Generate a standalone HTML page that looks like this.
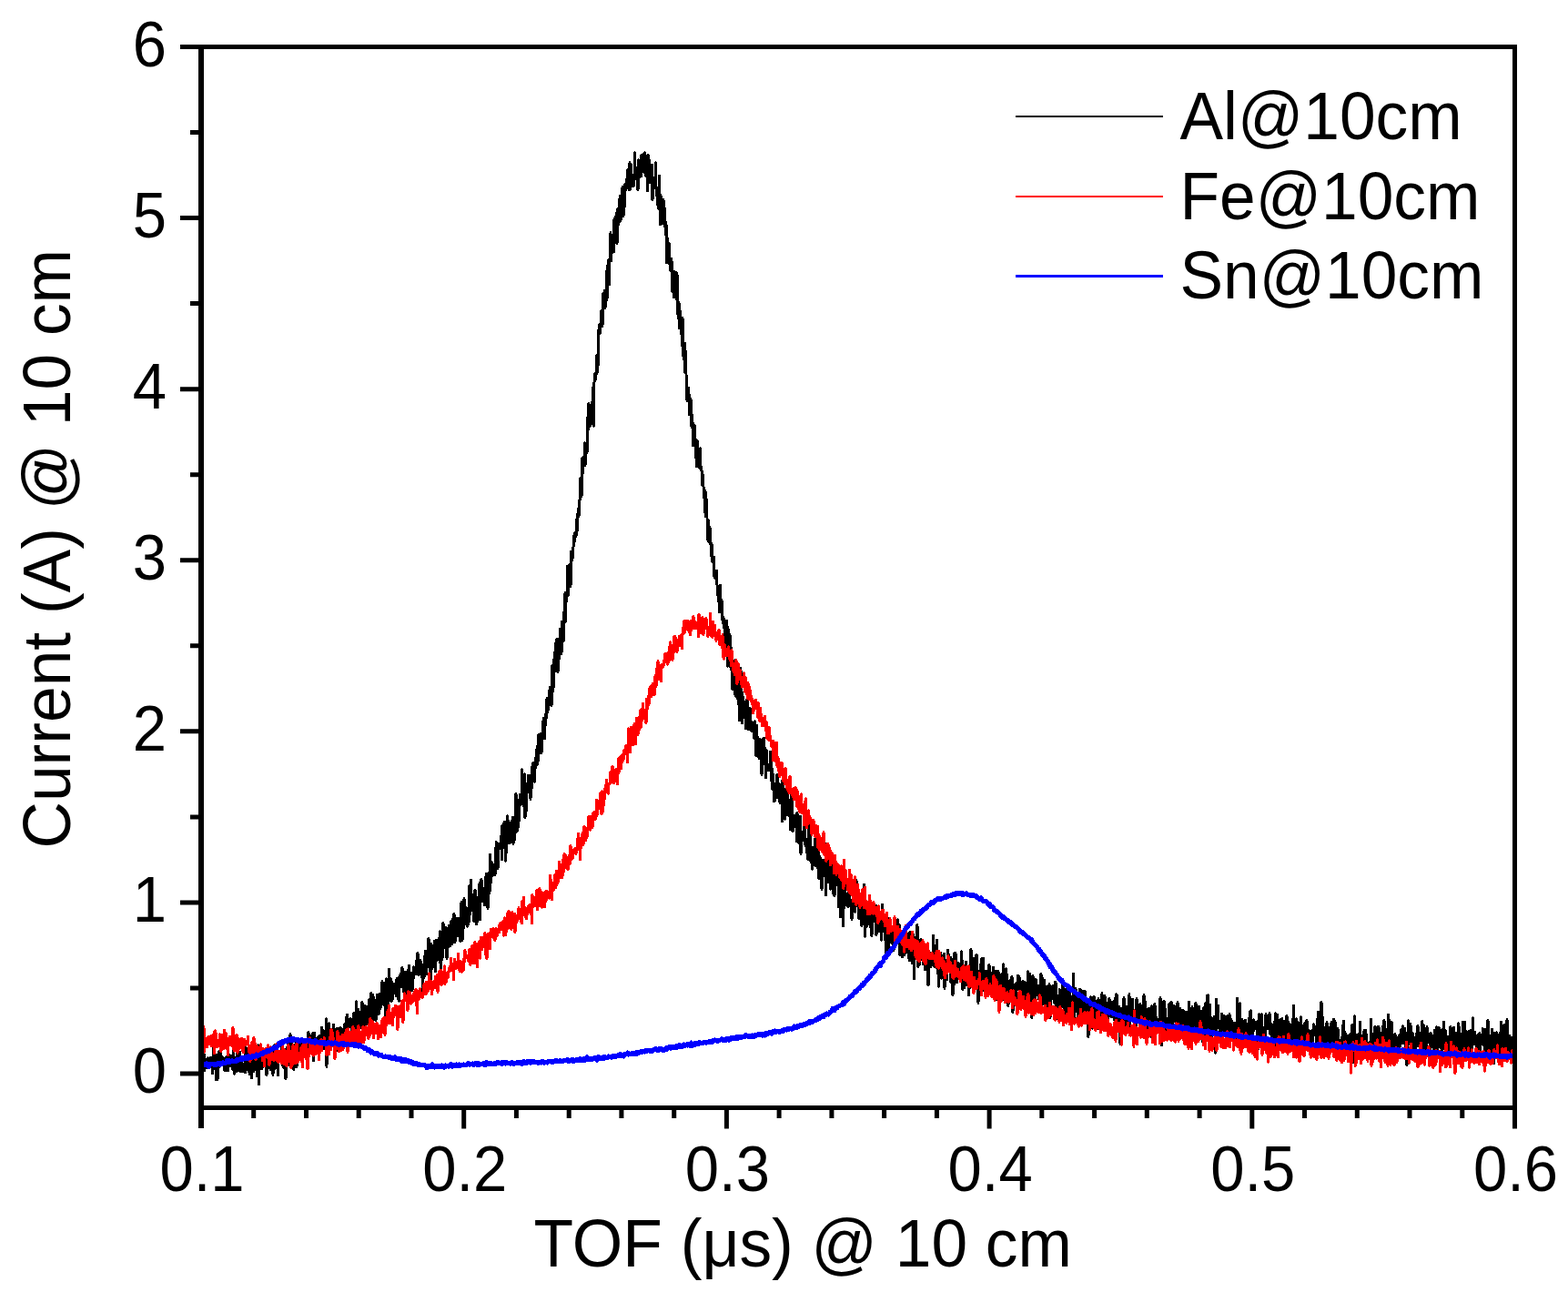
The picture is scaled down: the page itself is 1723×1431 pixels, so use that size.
<!DOCTYPE html>
<html><head><meta charset="utf-8"><style>
html,body{margin:0;padding:0;background:#fff;}
svg{display:block;font-family:"Liberation Sans",sans-serif;}
</style></head><body>
<svg width="1723" height="1431" viewBox="0 0 1723 1431">
<defs><clipPath id="c"><rect x="221" y="51.5" width="1443.5" height="1166"/></clipPath></defs>
<rect width="1723" height="1431" fill="#fff"/>
<g fill="none" stroke-linejoin="round" stroke-linecap="butt" clip-path="url(#c)" shape-rendering="crispEdges">
<path d="M222.50 1171.9l0.5 4.1 0.5-4.2 0.5-13.9 0.5 18.8 0.5-3.9 0.5-8.4 0.5 9.5 0.5-1.8 0.5-0.6 0.5-2.3 0.5 4.4 0.5-10.9 0.5 4.9 0.5-2.7 0.5 9.2 0.5-4.8 0.5-2.8 0.5-4.1 0.5 4.4 0.5 2.3 0.5-2.4 0.5 13.3 0.5-2.4 0.5-31.6 0.5 6.9 0.5 14.6 0.5-2.1 0.5 5.4 0.5 0 0.5 16.2 0.5-27.5 0.5 6.3 0.5 20.6 0.5-11.9 0.5 0.1 0.5-10 0.5-9.6 0.5 15.4 0.5-0.5 0.5-11.3 0.5 4.6 0.5 5.2 0.5-7.4 0.5 7.2 0.5 1.7 0.5-0.5 0.5-4.6 0.5 9.3 0.5 2.6 0.5-4.8 0.5-9.7 0.5 13.2 0.5-10.5 0.5 11.8 0.5-16.6 0.5 16.9 0.5-7.9 0.5-10.4 0.5 8 0.5 3.1 0.5 1.9 0.5-10.6 0.5-1 0.5 11.1 0.5-5.6 0.5 6 0.5 4.4 0.5-20.4 0.5 16.2 0.5 8.3 0.5-12.9 0.5-4.4 0.5 13.4 0.5-4.3 0.5 5.5 0.5-10.5 0.5-9.6 0.5 11.6 0.5-2.8 0.5 10.4 0.5-4.9 0.5-15.5 0.5 3.7 0.5 17.7 0.5-1.8 0.5-11.2 0.5 5.5 0.5 3.8 0.5 0.2 0.5 3.4 0.5-5.2 0.5-3 0.5-1.4 0.5 11.2 0.5-28.1 0.5 17.9 0.5 1.5 0.5-12.4 0.5 14.9 0.5-8.3 0.5 12.8 0.5-8.4 0.5 6.8 0.5 4.7 0.5-7.1 0.5-10.7 0.5-5.5 0.5 27.8 0.5-15.8 0.5-5 0.5 7.1 0.5-2.8 0.5 8.8 0.5-6.9 0.5-0.2 0.5-6.2 0.5 10.1 0.5-12.8 0.5 14.5 0.5 7.3 0.5-26 0.5-8 0.5 26.2 0.5 16.5 0.5-30.2 0.5-2.1 0.5 15.6 0.5-12.2 0.5 2.9 0.5 1.3 0.5 7.5 0.5-8 0.5 5.8 0.5-3.9 0.5-5.7 0.5 4.4 0.5-5.4 0.5 8.1 0.5-9.7 0.5 0.2 0.5 21.6 0.5-12.9 0.5-0.1 0.5 4.7 0.5-8 0.5 1.5 0.5 5.4 0.5-1.3 0.5-12.4 0.5 16.8 0.5-12.3 0.5-4.1 0.5 1.1 0.5 4.2 0.5 16.9 0.5-24 0.5 11.2 0.5-19.8 0.5 18 0.5 7.4 0.5-9.9 0.5-3.5 0.5 7.1 0.5 3.7 0.5-0.5 0.5 10.9 0.5-15.2 0.5-7 0.5 3.7 0.5 0.2 0.5 1.4 0.5-1.4 0.5 1.5 0.5-15.9 0.5 21 0.5-12.1 0.5-5.3 0.5 15.2 0.5 5.5 0.5-7.2 0.5-3 0.5-9.5 0.5 32.2 0.5-17.2 0.5-17.3 0.5 2.8 0.5 7.2 0.5-14.1 0.5 14.4 0.5-5.5 0.5 14.1 0.5-2.4 0.5-31.4 0.5 23.2 0.5-14.3 0.5 23 0.5-8.2 0.5 3 0.5-13.9 0.5 24.4 0.5 1.5 0.5-26.4 0.5 12 0.5-9.1 0.5 5.3 0.5-10.7 0.5 26.4 0.5-24.3 0.5 5.5 0.5 6.6 0.5-10 0.5 3.3 0.5-3 0.5 3.5 0.5-9 0.5 6 0.5 1.8 0.5-1.3 0.5 3.1 0.5-3.2 0.5 8.8 0.5-9.5 0.5 1.4 0.5-4.7 0.5 0.9 0.5-6.6 0.5 15.3 0.5-14.7 0.5 3.3 0.5 9.4 0.5 0.2 0.5-7.3 0.5-14.4 0.5 21.2 0.5-1.6 0.5-15 0.5 19.1 0.5-13.2 0.5-4 0.5 10.6 0.5-2.6 0.5 3.2 0.5-16.5 0.5 30.5 0.5-21.9 0.5-8.7 0.5 19.3 0.5-9.1 0.5 6 0.5-6.3 0.5 2.4 0.5 2.5 0.5-9.3 0.5 12.9 0.5-10.8 0.5-3.9 0.5 8.5 0.5 3.2 0.5-6.5 0.5-6.1 0.5 13.5 0.5-22.3 0.5 6.6 0.5 9.7 0.5-13.3 0.5 12.7 0.5-1 0.5 8.8 0.5-17.3 0.5 2.5 0.5 8.8 0.5-26.6 0.5 52.4 0.5-36.2 0.5-0.6 0.5 14.9 0.5-8.8 0.5-16.8 0.5 22.8 0.5 1.9 0.5-12.7 0.5 1.4 0.5 7.2 0.5-13.7 0.5 12.8 0.5-2.5 0.5-8.7 0.5-7.2 0.5 11.1 0.5-6.6 0.5 18.1 0.5-8.6 0.5 6 0.5-6.5 0.5 1 0.5-10.5 0.5 14.1 0.5 10.8 0.5-21 0.5-3 0.5 4.1 0.5-3.5 0.5-2.4 0.5 8.1 0.5-4.5 0.5 17 0.5-14.6 0.5 3 0.5 6 0.5-12.9 0.5 17.3 0.5-21.2 0.5-2 0.5 4.2 0.5 2.2 0.5-13.4 0.5 13.6 0.5-16.9 0.5 30.9 0.5-15.3 0.5-6.1 0.5-3.1 0.5 5.1 0.5 1.3 0.5-8.9 0.5 1 0.5 7.2 0.5-3.8 0.5 14.8 0.5 1.7 0.5-12.1 0.5 4.4 0.5-19.3 0.5 20.3 0.5-7.4 0.5 5 0.5 11.4 0.5-41.4 0.5 26.4 0.5-14.8 0.5 17.5 0.5-20.6 0.5 8.2 0.5 7 0.5 4 0.5-6.2 0.5-9.8 0.5 2.2 0.5 14.9 0.5-10 0.5-18.5 0.5 26.8 0.5-5.1 0.5 4.5 0.5-13.5 0.5 12.2 0.5-21 0.5 17.3 0.5-12.1 0.5 12.3 0.5 3.2 0.5-19.6 0.5 7.1 0.5 0.5 0.5 12.2 0.5-5.8 0.5-21.7 0.5 18 0.5 2.7 0.5 14.8 0.5-42.6 0.5 12.2 0.5 20.3 0.5-30.5 0.5 1.2 0.5 18.7 0.5 5.1 0.5-19.4 0.5 13.1 0.5-5.3 0.5 15.3 0.5-17.6 0.5 10.7 0.5-21.9 0.5 7.6 0.5 0.5 0.5 13.6 0.5-6.8 0.5-15.7 0.5 15.9 0.5 0.5 0.5-10.5 0.5-2.2 0.5 0.3 0.5-17.7 0.5 21.2 0.5 0 0.5-13.1 0.5 18 0.5-24.7 0.5 9 0.5 0.4 0.5 27.8 0.5-41.7 0.5 24.4 0.5 3.9 0.5-6.9 0.5 8.8 0.5-25.6 0.5-15.2 0.5 34.6 0.5-23.1 0.5 9.5 0.5-10.2 0.5 25.1 0.5-2.6 0.5-18.8 0.5 18.2 0.5-9.5 0.5-3.5 0.5 1.7 0.5-3.5 0.5 8.9 0.5-4 0.5-8.2 0.5 15.1 0.5-19.1 0.5 9.8 0.5 1 0.5 11.6 0.5-23.3 0.5 25.3 0.5-18.5 0.5-4.8 0.5-6 0.5 13.9 0.5-6.6 0.5-13.8 0.5-0.8 0.5 6.2 0.5-1.9 0.5 19.9 0.5 2.8 0.5-6.3 0.5-6.3 0.5-9.4 0.5 5.1 0.5 9.2 0.5 13.9 0.5-14.4 0.5-14 0.5 3.3 0.5-6.4 0.5-3.7 0.5 6.5 0.5 4.1 0.5 18.5 0.5-20.8 0.5 14.7 0.5 4.5 0.5-19.7 0.5 17.3 0.5-10.6 0.5-13.3 0.5 7.6 0.5-3.1 0.5-3.2 0.5 0.1 0.5 3.7 0.5 3.1 0.5-15.5 0.5 9.8 0.5-17.7 0.5 20.2 0.5 3.9 0.5-5.6 0.5 1.1 0.5 3.2 0.5-14.7 0.5 4.5 0.5 8.3 0.5 5.3 0.5-7.3 0.5 24.4 0.5-30.8 0.5 12.2 0.5 2.7 0.5-16.5 0.5-8.3 0.5-4.6 0.5 15.1 0.5 10.4 0.5-10.1 0.5-1.5 0.5-6.8 0.5 10.3 0.5-31.5 0.5 26.8 0.5-2.8 0.5-16.6 0.5 40.3 0.5-41.5 0.5 3.1 0.5-1.9 0.5 26 0.5-23.5 0.5 17.4 0.5-1.5 0.5-4.3 0.5-18.5 0.5 7.4 0.5 25.7 0.5-34.6 0.5 4.7 0.5 7.1 0.5 10.5 0.5-7 0.5 5.1 0.5-21.5 0.5 22.5 0.5-4.9 0.5-25.6 0.5 35.4 0.5 8 0.5-35.9 0.5 8.8 0.5 14.8 0.5-33.8 0.5-6.5 0.5 7.2 0.5 7.7 0.5-0.8 0.5 12.9 0.5-4.6 0.5-18.1 0.5 20.2 0.5 14.3 0.5-8.5 0.5-3 0.5-11.9 0.5 10.4 0.5-23.1 0.5 19.1 0.5-10.4 0.5 13.4 0.5-8.3 0.5-18.6 0.5 13.4 0.5 11.9 0.5-27.6 0.5 5.9 0.5-3 0.5-8.9 0.5 27.6 0.5 3.5 0.5-6.4 0.5-7 0.5-3.9 0.5 2.8 0.5-11.7 0.5 18.2 0.5 1.2 0.5-1.7 0.5-17.4 0.5 6.6 0.5-3.3 0.5 22 0.5-19 0.5-24.1 0.5 25.8 0.5 16.6 0.5-14.3 0.5 1.8 0.5-10.1 0.5-23.6 0.5 1.4 0.5 6.1 0.5 12.4 0.5 4.5 0.5 3.9 0.5-12.3 0.5 14.4 0.5-14.7 0.5-5.4 0.5 17.4 0.5-20.9 0.5-21.4 0.5 18.6 0.5 12.7 0.5-37.1 0.5 30.7 0.5-0.3 0.5-13.3 0.5-1.3 0.5 11 0.5-1.7 0.5 20 0.5-10.9 0.5-23.3 0.5 7.5 0.5 17.1 0.5 12.8 0.5-18.3 0.5-1.8 0.5 16.9 0.5-22.7 0.5-4.2 0.5-13.8 0.5 9.3 0.5 29.9 0.5-42.4 0.5 15.4 0.5-17.5 0.5 16.6 0.5 7.6 0.5-14.1 0.5 10 0.5-1.2 0.5-4.3 0.5 13.4 0.5-11.9 0.5-13.6 0.5-5.5 0.5-3 0.5 14 0.5-10.3 0.5 34 0.5-11.4 0.5-24.7 0.5-2.5 0.5 22.1 0.5-42.2 0.5 15.4 0.5 15 0.5-22.5 0.5 3.9 0.5 0.4 0.5 10.5 0.5-7.1 0.5 2 0.5 1.2 0.5-7.6 0.5 11.3 0.5-22.2 0.5-9.2 0.5-5 0.5 0.7 0.5 11.2 0.5 17.1 0.5-10.9 0.5-9.9 0.5-6.5 0.5 5.1 0.5 0.4 0.5-2.9 0.5-11 0.5 9.9 0.5 16.2 0.5-37.8 0.5 21.2 0.5-22.6 0.5 25.5 0.5-11.7 0.5-16.4 0.5 24.2 0.5 18.8 0.5-20.6 0.5 11.2 0.5-15.1 0.5-24.9 0.5 29.5 0.5-11.3 0.5-12.9 0.5 24.9 0.5-6.6 0.5-10.2 0.5 15.2 0.5-20.9 0.5 16.5 0.5-19.1 0.5 16.1 0.5-19.7 0.5 28.9 0.5-15.2 0.5 12.6 0.5-26.9 0.5 3 0.5 14.1 0.5-42.3 0.5 18.2 0.5 23.1 0.5-7.8 0.5 4.7 0.5-16 0.5 8.7 0.5-16.2 0.5-8.8 0.5-5.1 0.5 11.6 0.5-1.5 0.5-2.4 0.5-35.1 0.5 16.2 0.5 15.3 0.5 7.8 0.5-11.5 0.5-5 0.5-18 0.5 48.2 0.5-37.4 0.5 30.5 0.5-2.9 0.5-16.2 0.5-11.2 0.5 6.7 0.5-16.2 0.5 14.9 0.5-4.4 0.5 4.7 0.5 3.3 0.5 7.6 0.5-25.8 0.5 15 0.5-22.6 0.5-2.7 0.5 1.6 0.5-5.8 0.5 21 0.5-2.4 0.5 2.4 0.5-16.7 0.5 1.7 0.5-11.6 0.5-8.4 0.5 16.5 0.5-4 0.5-17.7 0.5 17.5 0.5-28.8 0.5 15.9 0.5-7.2 0.5-1 0.5-8.5 0.5 21.2 0.5-6.7 0.5 4.8 0.5-14.4 0.5-18.8 0.5 8.1 0.5-11.8 0.5 16.4 0.5 6 0.5-12.7 0.5-13.3 0.5 0 0.5 3.9 0.5-21.7 0.5 15.6 0.5-2.2 0.5-11.3 0.5-1.4 0.5 4 0.5-14.1 0.5-2.8 0.5 15.7 0.5-9.1 0.5 14 0.5-33.3 0.5-11.7 0.5 28.6 0.5-2.3 0.5-22.1 0.5-10.9 0.5 13.9 0.5-22.1 0.5 13.7 0.5-23.6 0.5 19.9 0.5-24.1 0.5 19.2 0.5 17.7 0.5-23.1 0.5 9.4 0.5-18.8 0.5-5.6 0.5-9.7 0.5 26.4 0.5-15.5 0.5 16.3 0.5-35.3 0.5 7.7 0.5 0.2 0.5 11.9 0.5 1.1 0.5-32.1 0.5-9.3 0.5-10.8 0.5 31.4 0.5-20.4 0.5-10.5 0.5 2.8 0.5-32.9 0.5 5.5 0.5 26.5 0.5-10.2 0.5-6.7 0.5-17.1 0.5 14.4 0.5 10 0.5-38.1 0.5 10.6 0.5-8.7 0.5 5.7 0.5-7.4 0.5-5.3 0.5-11.8 0.5 6.5 0.5-10.4 0.5 1.9 0.5-2.7 0.5 4.6 0.5-18 0.5-1 0.5 12.1 0.5-19 0.5-4.8 0.5 8.6 0.5-11.2 0.5-6.6 0.5-3.1 0.5-21.4 0.5 15 0.5 5.4 0.5-13.1 0.5-29 0.5 16.7 0.5-17.9 0.5 3.6 0.5 0.1 0.5-19.2 0.5 25.2 0.5-19.9 0.5 6.2 0.5-5.5 0.5 4.6 0.5-5.3 0.5-34.2 0.5 13.9 0.5-28.6 0.5 15.9 0.5 9.7 0.5-1.4 0.5 0.6 0.5-23 0.5 4.1 0.5-6.5 0.5 9.4 0.5-0.5 0.5-26.6 0.5 43.4 0.5-47.9 0.5-8.6 0.5 6.7 0.5-2.6 0.5-6.9 0.5-18.2 0.5 20 0.5-20.7 0.5 12.6 0.5-6 0.5-35 0.5-0.9 0.5-4.6 0.5 10.1 0.5-6.5 0.5-1.7 0.5-16.7 0.5 10 0.5 7.1 0.5-35.6 0.5 8.9 0.5 1.1 0.5-8.4 0.5-4.7 0.5 18.8 0.5-9.4 0.5-8.6 0.5-22.1 0.5 31.1 0.5-24.9 0.5-14 0.5-0.3 0.5-4.7 0.5 27.2 0.5-24.8 0.5-4.2 0.5-28.1 0.5 30.7 0.5-23.1 0.5-3.2 0.5 17.6 0.5-19.3 0.5 17.2 0.5 1 0.5-35.8 0.5 16.7 0.5-18.9 0.5 15 0.5 8.9 0.5-28.5 0.5 34 0.5-26.7 0.5-12.4 0.5 9.8 0.5 8.2 0.5-27.3 0.5 13.6 0.5-18.1 0.5 27.4 0.5-14.2 0.5-8.8 0.5 14.8 0.5-28.7 0.5 8.4 0.5 24 0.5-24.4 0.5 15.4 0.5-14.9 0.5-11.7 0.5 3.8 0.5 2.4 0.5-6.8 0.5-5.9 0.5-0.6 0.5-9.1 0.5 17.3 0.5 2.3 0.5 3.2 0.5-30.2 0.5 29.2 0.5-10.3 0.5-17 0.5 16.8 0.5 7.5 0.5-4.1 0.5 1.7 0.5 1.8 0.5-1.2 0.5-11.3 0.5-24.2 0.5 14.6 0.5 12.2 0.5-10.1 0.5 12.7 0.5 0.7 0.5-9.2 0.5 20.5 0.5-33.4 0.5 21.4 0.5-16.7 0.5-4.1 0.5 15.3 0.5-14.3 0.5 16.5 0.5-23.7 0.5 13.5 0.5-10.4 0.5 6.7 0.5-1.7 0.5-8.9 0.5 20.4 0.5-21.8 0.5 3.1 0.5 21.6 0.5 1.2 0.5-3.3 0.5-3.4 0.5 22.8 0.5-39.6 0.5 5.9 0.5-2.1 0.5 22.5 0.5-6.2 0.5 10.5 0.5-0.6 0.5-12.6 0.5-5.6 0.5-0.7 0.5 38.3 0.5-12.8 0.5-2.7 0.5-9 0.5 3.4 0.5 0.2 0.5 2.1 0.5-22 0.5 29 0.5-1.7 0.5 9.7 0.5 1.1 0.5 9.4 0.5-7.9 0.5 11.3 0.5-36.5 0.5 18.8 0.5 34.5 0.5-31.8 0.5 12.9 0.5 13.4 0.5-16.1 0.5 20.6 0.5-22.5 0.5-3.4 0.5 9.1 0.5-1.4 0.5 21.3 0.5-1 0.5 10.1 0.5-13 0.5 43.9 0.5-27.5 0.5 3.4 0.5 8.8 0.5-5 0.5-1.3 0.5 11.4 0.5 12.8 0.5 0.3 0.5 6.5 0.5-14 0.5 0.9 0.5 35.3 0.5-22.5 0.5 11.6 0.5 6.4 0.5 11.1 0.5-28.5 0.5 13.3 0.5 3.8 0.5 4.8 0.5-21 0.5 29.9 0.5-28.9 0.5 39.9 0.5 6 0.5 3.9 0.5-17.5 0.5 28 0.5-17.6 0.5-1 0.5 6.2 0.5 4.9 0.5 15.2 0.5 11.1 0.5-29.9 0.5 21.8 0.5 20.6 0.5-3.9 0.5 7.8 0.5-18.6 0.5 32.9 0.5-24.2 0.5 25.1 0.5 18.3 0.5 10.9 0.5-10.8 0.5 9.1 0.5-12.3 0.5 6.1 0.5 23.5 0.5-9.1 0.5 2.6 0.5-10.8 0.5 21.7 0.5 9.2 0.5-13.2 0.5 6.5 0.5 27.1 0.5-13.3 0.5-2.6 0.5-7 0.5 8.5 0.5 6.8 0.5 21.1 0.5-20.4 0.5 30.1 0.5-28.9 0.5 9 0.5 16.2 0.5-10 0.5-4.3 0.5 10.6 0.5 9.3 0.5-22.1 0.5 19.7 0.5 4.5 0.5-0.4 0.5 16.2 0.5-11.7 0.5 5.7 0.5 8.1 0.5 11.5 0.5-7.2 0.5 23.7 0.5-24 0.5 29.1 0.5-20.7 0.5 12 0.5 10.1 0.5 23.4 0.5-9.3 0.5-11 0.5 23.6 0.5-13.5 0.5-2.8 0.5 18 0.5-0.4 0.5 13.6 0.5-13.8 0.5 14.2 0.5 6.4 0.5-0.8 0.5-0.2 0.5-4.4 0.5 21.6 0.5-5.6 0.5 7.2 0.5-6.6 0.5 7.2 0.5-9.1 0.5 15.9 0.5 10.8 0.5-4.8 0.5 11.8 0.5-3.4 0.5 15 0.5-15 0.5-13.8 0.5 26.7 0.5-4.1 0.5-6.4 0.5 21.5 0.5-1.6 0.5 4.9 0.5-6.1 0.5 8.9 0.5 3.5 0.5 20.3 0.5-25.5 0.5 10.6 0.5 7 0.5-21.2 0.5 4.1 0.5 46 0.5-42.5 0.5 29.6 0.5-13.8 0.5 3.6 0.5-11.5 0.5 14.9 0.5 21.8 0.5-22.6 0.5 25.2 0.5-0.9 0.5 21.8 0.5-26.5 0.5 22.2 0.5-2.2 0.5-11.5 0.5-13.8 0.5 38.4 0.5-31.2 0.5 12.2 0.5 17.4 0.5 4.4 0.5-20.8 0.5 11.1 0.5-0.9 0.5 18.2 0.5 16.9 0.5-48.3 0.5 33.2 0.5-41.9 0.5 34.6 0.5-11.4 0.5 37.1 0.5-19.5 0.5-9 0.5 4.2 0.5 0.5 0.5 10.2 0.5-2.6 0.5 10.7 0.5 11.5 0.5-8.4 0.5-20.8 0.5-3.3 0.5 11.2 0.5 22 0.5-14.7 0.5-2.6 0.5 10.4 0.5-16.7 0.5 4.3 0.5 20.1 0.5-8.2 0.5-0.6 0.5 9.9 0.5-9.3 0.5-0.1 0.5 3.7 0.5 13.3 0.5-5.2 0.5-13.3 0.5 11.3 0.5 12 0.5 15.1 0.5-33.5 0.5 18.1 0.5-5.7 0.5 13.6 0.5-3.2 0.5 12.9 0.5-9.8 0.5-11 0.5 1.3 0.5 12.1 0.5 1.1 0.5 24.3 0.5-7 0.5-31.5 0.5 18.8 0.5-18 0.5-2.4 0.5 28.9 0.5-0.9 0.5-16.9 0.5 32.1 0.5-28.8 0.5-0.9 0.5 22.2 0.5-3.6 0.5-3.1 0.5 2.3 0.5 4.6 0.5-3 0.5 0.9 0.5-18.7 0.5 7.6 0.5 23.6 0.5-14 0.5 15.5 0.5 9 0.5-17.2 0.5 8.4 0.5 21.7 0.5-14.9 0.5 14.3 0.5-2.6 0.5-8 0.5-8.9 0.5-7.5 0.5-2.1 0.5 19.3 0.5 0.8 0.5-6.5 0.5 12.7 0.5-15.7 0.5 20.6 0.5-11.3 0.5 0 0.5 1.4 0.5-0.2 0.5 30.7 0.5-46.2 0.5 21.5 0.5 13.2 0.5-5.1 0.5-10.8 0.5 24.5 0.5-31.4 0.5-1.7 0.5 22.5 0.5-22.3 0.5-9.6 0.5 38.4 0.5-0.4 0.5 0.7 0.5-13.1 0.5 8.7 0.5-12.2 0.5 32.1 0.5-9.9 0.5 0.5 0.5-30 0.5 32.7 0.5 8.9 0.5-2.2 0.5-3.9 0.5-8.1 0.5-3 0.5 11.9 0.5-1.5 0.5-0.7 0.5-5.3 0.5 23.8 0.5-31.8 0.5 14.2 0.5-5.5 0.5 19.5 0.5 5.6 0.5-1.2 0.5-4.7 0.5-23.9 0.5 41 0.5-17.1 0.5-6.2 0.5 2.4 0.5-3.3 0.5 9.7 0.5-0.4 0.5-6.9 0.5-24.5 0.5 30 0.5 6.8 0.5 1.4 0.5-7 0.5 7.8 0.5 7.5 0.5-16.5 0.5 23.1 0.5-38.5 0.5 8.8 0.5 4.9 0.5-16.9 0.5 17.4 0.5 26.6 0.5 0.7 0.5-12.4 0.5 19.5 0.5-16.3 0.5-7.7 0.5 9.2 0.5-3.6 0.5 10.8 0.5-25 0.5 29.5 0.5-16 0.5 15.8 0.5-26.8 0.5 13.6 0.5 6.5 0.5 10.1 0.5-23.6 0.5 33.9 0.5-12.9 0.5-10.9 0.5 20.7 0.5-12.1 0.5 12.8 0.5 14.1 0.5-17.2 0.5-14.2 0.5 1.9 0.5 12.3 0.5-2.8 0.5-12.2 0.5 2.6 0.5 16 0.5 20 0.5-56.5 0.5 39.2 0.5-10.1 0.5 12.1 0.5 1.7 0.5-8.8 0.5-11.6 0.5-3.7 0.5-4.8 0.5 36.2 0.5-15.8 0.5-3.1 0.5 3.6 0.5-11.5 0.5 19.5 0.5 12.3 0.5-1.4 0.5-30.5 0.5 34.4 0.5-23.9 0.5-12.5 0.5 8.5 0.5 3.6 0.5 11.7 0.5-11.2 0.5-4.9 0.5 15 0.5 25.8 0.5-29.6 0.5 14 0.5-3.8 0.5 30.2 0.5-51.8 0.5 35.1 0.5-26.8 0.5 8.5 0.5 6.3 0.5 38.4 0.5-44.9 0.5-12.4 0.5 37.3 0.5-24 0.5 7.4 0.5 3 0.5 2 0.5-2.5 0.5 5.5 0.5 2 0.5 5.9 0.5-14.2 0.5-3.2 0.5-3.1 0.5 19.5 0.5-6.8 0.5 7.4 0.5 0.3 0.5 13.8 0.5-16.6 0.5 6.8 0.5-22 0.5 1.9 0.5 9.3 0.5-9.9 0.5 22.4 0.5-22.8 0.5 16.6 0.5-28.5 0.5 16 0.5 9.3 0.5 1.4 0.5-17.2 0.5 22.3 0.5 10.4 0.5-3.3 0.5-14.6 0.5 1.3 0.5-6.4 0.5 21.3 0.5 9.8 0.5-22.2 0.5-13.1 0.5 22.3 0.5 6.3 0.5-39.1 0.5 33.4 0.5 23.7 0.5-15.1 0.5-2.7 0.5-1.2 0.5 7.9 0.5-22.6 0.5 1.5 0.5 14.8 0.5-12.2 0.5 11.3 0.5-24.6 0.5 31.1 0.5 1.4 0.5-8.8 0.5 1.7 0.5 17.1 0.5-30.7 0.5 2.3 0.5-1.7 0.5 8.1 0.5-6.4 0.5 12.4 0.5-7.6 0.5-8.9 0.5-0.8 0.5 32.1 0.5-14.4 0.5-1.5 0.5 3.3 0.5-1 0.5 10 0.5-1.9 0.5-13 0.5-2.4 0.5-2.7 0.5-1.6 0.5 30.8 0.5-26.3 0.5-12.4 0.5 13.8 0.5 0.9 0.5 13.2 0.5-13.7 0.5 16.6 0.5-1.4 0.5 10.4 0.5 10.7 0.5 8.1 0.5-16.9 0.5-28.6 0.5 9 0.5 7.8 0.5 21.2 0.5-15.7 0.5 6.4 0.5-15.5 0.5 9.1 0.5 1.8 0.5-13.2 0.5 14.5 0.5 3.7 0.5-13.8 0.5 13.9 0.5 7.5 0.5-17.8 0.5-0.4 0.5-3.2 0.5-3.2 0.5 9.3 0.5-6.2 0.5 1.5 0.5-4.9 0.5-8.4 0.5 7.3 0.5 14.9 0.5-17 0.5 6.6 0.5 26.7 0.5-5.5 0.5-20.5 0.5 15.3 0.5-14 0.5 26.6 0.5-25 0.5 8.1 0.5 15.4 0.5-25 0.5 24.9 0.5-24 0.5 12.6 0.5-5.7 0.5 2.8 0.5 3.3 0.5-2.3 0.5-10.4 0.5 22.1 0.5-1.3 0.5 7 0.5 1.5 0.5-31 0.5 30.6 0.5 0.6 0.5-20.7 0.5 18.5 0.5 5.3 0.5-22.6 0.5-9.3 0.5 12.1 0.5 36.6 0.5-29 0.5-16.3 0.5 11.4 0.5-8.2 0.5 7.2 0.5 6.1 0.5-30.2 0.5 33.9 0.5 12.5 0.5-18.2 0.5-1.8 0.5 17.3 0.5-26.8 0.5 0.6 0.5-1.3 0.5 14.5 0.5 6.6 0.5-5.2 0.5 7.7 0.5 3.5 0.5-3.5 0.5-14.7 0.5 6.6 0.5 17.7 0.5-26 0.5 9.4 0.5-1.6 0.5 3 0.5-9.9 0.5-2.9 0.5 45.2 0.5-18.2 0.5-18.8 0.5 7.8 0.5 8.8 0.5-11.5 0.5 11.4 0.5-13.9 0.5 3.2 0.5 3.4 0.5-4 0.5-22.7 0.5 28.7 0.5 3.1 0.5 2.7 0.5-16.7 0.5 15.7 0.5-1.3 0.5-22.6 0.5-4.7 0.5 31 0.5-16.2 0.5 22.7 0.5 13.3 0.5-31.1 0.5-1 0.5 8 0.5 8.1 0.5-20.6 0.5 27.6 0.5-2.8 0.5-3.6 0.5-13.6 0.5 16.9 0.5-0.5 0.5-23.5 0.5 38.1 0.5-27.4 0.5 7.9 0.5-10.1 0.5 10.6 0.5 9.1 0.5-22.5 0.5-9.6 0.5 14.1 0.5-9.7 0.5 6.4 0.5 7.5 0.5 0.8 0.5 15.8 0.5-26.4 0.5 15.9 0.5-9.8 0.5 21.7 0.5 13.5 0.5-25.4 0.5 15.9 0.5-25.2 0.5-12.1 0.5 3.9 0.5-3.4 0.5 7.3 0.5 8.4 0.5 16.1 0.5-5 0.5-2.6 0.5-10.1 0.5-3.2 0.5 8.8 0.5 1.3 0.5 1.6 0.5 1.4 0.5-5.4 0.5-20.7 0.5 9.5 0.5 3.5 0.5 29.1 0.5-24.2 0.5 12.8 0.5 9.2 0.5-12.8 0.5-8.2 0.5 1.3 0.5-8.3 0.5 15.5 0.5 9.6 0.5-6.3 0.5 2.5 0.5-0.5 0.5 15 0.5-30.2 0.5 9.2 0.5 6.5 0.5 6.4 0.5-42.1 0.5 22 0.5 3.8 0.5-9.3 0.5 21.7 0.5-7.1 0.5-6.9 0.5-14.1 0.5 3.7 0.5 4.1 0.5 16.7 0.5-19.1 0.5-9.7 0.5 7.3 0.5 10 0.5 26.2 0.5 9.7 0.5-34.2 0.5 16.5 0.5 5.4 0.5-1.2 0.5-16 0.5-13.5 0.5 9.5 0.5-15.6 0.5 24.2 0.5 6.4 0.5-30.6 0.5 21.3 0.5 4 0.5 11.2 0.5 1.6 0.5-6.6 0.5-17 0.5 3.8 0.5 18.2 0.5-20.7 0.5 6.6 0.5 18.5 0.5-16.4 0.5-17.1 0.5 12.5 0.5 10.8 0.5-9.4 0.5 15.6 0.5 1.5 0.5-22.1 0.5 1.8 0.5 4.7 0.5-12.6 0.5 18.3 0.5-6.3 0.5 11.2 0.5-15.8 0.5-3.2 0.5 31.4 0.5-31.1 0.5 3.4 0.5-1.5 0.5 5 0.5-6.9 0.5 10.1 0.5-7.4 0.5 3.4 0.5 9.1 0.5 4 0.5-2.6 0.5-13.7 0.5 13.2 0.5-5.8 0.5 0.3 0.5-18.4 0.5 27.7 0.5-9.2 0.5 21.4 0.5-12.1 0.5-20.1 0.5-2.7 0.5 29.2 0.5-23.2 0.5 18.1 0.5-11.1 0.5 27.8 0.5-23.1 0.5 16.7 0.5-1.9 0.5-20.5 0.5 1.7 0.5 21.1 0.5-16.9 0.5-9.8 0.5 24 0.5 15.9 0.5-29.8 0.5 16.8 0.5-17.8 0.5 17.6 0.5-18.1 0.5 18.2 0.5-8.8 0.5-8.2 0.5 5 0.5-8.8 0.5-6.6 0.5 1 0.5 11.7 0.5-11.4 0.5 17.4 0.5 1.2 0.5-0.5 0.5-11 0.5 6.5 0.5-0.8 0.5 15.7 0.5-24.4 0.5 5 0.5 1.9 0.5 1.2 0.5-6.9 0.5 1.6 0.5 19 0.5-18.9 0.5 18 0.5 13 0.5-8.5 0.5-35.4 0.5 29.8 0.5-3.3 0.5 0.9 0.5-24.8 0.5 27.5 0.5-21.1 0.5 27.5 0.5-2.4 0.5 17.1 0.5-33.7 0.5-13 0.5 29.8 0.5-1.9 0.5-14.4 0.5 20.2 0.5-7.6 0.5-22.6 0.5 10.9 0.5-1 0.5 4 0.5 3.6 0.5-10.1 0.5 5.8 0.5 9.2 0.5-7.5 0.5-2.1 0.5-0.3 0.5 2.5 0.5-20.8 0.5 24 0.5-13.5 0.5 13.1 0.5-18 0.5 27.7 0.5-7.8 0.5-18.1 0.5 18.4 0.5-11.3 0.5 29.6 0.5-15 0.5-14.6 0.5 11.8 0.5-2.8 0.5 14.3 0.5-9.5 0.5 1.9 0.5-18.6 0.5 22.2 0.5 15.1 0.5-16.6 0.5-7.7 0.5 2.5 0.5-12.7 0.5 13.3 0.5-14.7 0.5 13.3 0.5-4.8 0.5-4.9 0.5 16.4 0.5-23.7 0.5 16.8 0.5-14.6 0.5 36.4 0.5 1.8 0.5-12.8 0.5 12.3 0.5-14.9 0.5-0.4 0.5-11 0.5-5.3 0.5 12 0.5-7.5 0.5 1.2 0.5 13.6 0.5-9.7 0.5-16.3 0.5 15.6 0.5-6.2 0.5 5.6 0.5-9.1 0.5 26.6 0.5 8.2 0.5-34.5 0.5 20.3 0.5-0.4 0.5-19.1 0.5 13.7 0.5 15.2 0.5-6.4 0.5 9.1 0.5-32 0.5 5 0.5 12.1 0.5 0.8 0.5-3.6 0.5-4.6 0.5-0.2 0.5-2.1 0.5 12.3 0.5-36.8 0.5 50.2 0.5-24.3 0.5-10.3 0.5 22.9 0.5-22.3 0.5 20.7 0.5-9 0.5 11.6 0.5 2.3 0.5 6 0.5-20.5 0.5 2.4 0.5 3.4 0.5-16.1 0.5 23.2 0.5-5.2 0.5-16.8 0.5 29.5 0.5 1.9 0.5-30.8 0.5 21.8 0.5 7.9 0.5-4.6 0.5-20.8 0.5-4.7 0.5 14.8 0.5-4.2 0.5 5.7 0.5-1 0.5 7.3 0.5-12.4 0.5 4.7 0.5 36.1 0.5-35.5 0.5 10 0.5-5 0.5-0.7 0.5-12.9 0.5 16.6 0.5-6.6 0.5 10.1 0.5 14.3 0.5-21.4 0.5 6.8 0.5-20.5 0.5 13.2 0.5 16.6 0.5-18.4 0.5-6.5 0.5 9.7 0.5-4.4 0.5-0.5 0.5-1.4 0.5 27.2 0.5-32.8 0.5 5.4 0.5-1.7 0.5 20.9 0.5-17.4 0.5 18.3 0.5-13 0.5-2.1 0.5-16.4 0.5 30.8 0.5-7.6 0.5-1.5 0.5-5.9 0.5-3.3 0.5-9.7 0.5 25.5 0.5-7.7 0.5-7.1 0.5-3 0.5 8.6 0.5-2.3 0.5 20.1 0.5-9.9 0.5-15.7 0.5-5.8 0.5 10.1 0.5-7.6 0.5 11.4 0.5 3.9 0.5 2.7 0.5-2.4 0.5-6.9 0.5 9.2 0.5-17 0.5 9.4 0.5 10.4 0.5-6 0.5-17.8 0.5 1.4 0.5-5.2 0.5 39.5 0.5-38.5 0.5 16.3 0.5 22.8 0.5-8.6 0.5 2.8 0.5-20.8 0.5 14.4 0.5 26.6 0.5-35.4 0.5 5.3 0.5-8.3 0.5 3.6 0.5 4.5 0.5 11.8 0.5-26.3 0.5-5.9 0.5 16.8 0.5 2.1 0.5 14 0.5-7.9 0.5-15.3 0.5 13.7 0.5 6.4 0.5-9.4 0.5-7.1 0.5 11.8 0.5-11.8 0.5-17.3 0.5 36.8 0.5-30 0.5 11 0.5 0.3 0.5-0.1 0.5 0.6 0.5-13.2 0.5 22.7 0.5-5.7 0.5 0.3 0.5 11.9 0.5 0.4 0.5 2.8 0.5 6 0.5-16 0.5-22.8 0.5 20.2 0.5-2.2 0.5 0.7 0.5-7.6 0.5-3.3 0.5 19.5 0.5 2.1 0.5-24 0.5 19.2 0.5-8.1 0.5-2.4 0.5 12.4 0.5-8.4 0.5-5.7 0.5 7.1 0.5-23.6 0.5 16.3 0.5 1.8 0.5-11 0.5 18.2 0.5 1.1 0.5-9.9 0.5 5 0.5 9.8 0.5 4.5 0.5-20.9 0.5 12.7 0.5 8.1 0.5-12.2 0.5-8.5 0.5 0.2 0.5 5.1 0.5-8.1 0.5 35.1 0.5-29.6 0.5 10.9 0.5-2.1 0.5 5.2 0.5-11.7 0.5-10.4 0.5 33.8 0.5-19.6 0.5 2.3 0.5 1 0.5 12.3 0.5-5.6 0.5 4.7 0.5-3.9 0.5-7.7 0.5 1.3 0.5-11.4 0.5-13.7 0.5 19.6 0.5-9.5 0.5 42.2 0.5-11.8 0.5-4.4 0.5-19.7 0.5 30.1 0.5-43.2 0.5 5.7 0.5 5 0.5-2 0.5 12.7 0.5 0.7 0.5 19.8 0.5-10.4 0.5 2.6 0.5-9.1 0.5-6.5 0.5-6.1 0.5-9.4 0.5 7.4 0.5 5.7 0.5 13.2 0.5-28.1 0.5 3.8 0.5 18.3 0.5-14.5 0.5 15.9 0.5-8.5 0.5-3.8 0.5-6.7 0.5 14.4 0.5-7.3 0.5 1.4 0.5-0.2 0.5 9.5 0.5-0.4 0.5-21.3 0.5 17.9 0.5 6.5 0.5 7.4 0.5-2.9 0.5-6.5 0.5-15.5 0.5 4.4 0.5 19.4 0.5-18.5 0.5 19.9 0.5 2.9 0.5-26.8 0.5 17.3 0.5-6.3 0.5 24.7 0.5-13.6 0.5-15.5 0.5 10.6 0.5-15.1 0.5 8.8 0.5 4.2 0.5-0.6 0.5 1.9 0.5-13.9 0.5-10.9 0.5 17.2 0.5-6 0.5 2.3 0.5 32.6 0.5-11.1 0.5-15.3 0.5-14.5 0.5 1.7 0.5 19.1 0.5 8.2 0.5-15.6 0.5 5 0.5 1.4 0.5 9.4 0.5-33.9 0.5 23.5 0.5 2.9 0.5 6.4 0.5-6.4 0.5-17.1 0.5 6 0.5-10.8 0.5 19.8 0.5 0.1 0.5 3.7 0.5-17 0.5-1.9 0.5 30.7 0.5-15.4 0.5 18.1 0.5-15 0.5-21.8 0.5 26.1 0.5 5 0.5-19.3 0.5-16.9 0.5 29.9 0.5-9.3 0.5 4.9 0.5-34 0.5 36.2 0.5-36.8 0.5 21.7 0.5 20.2 0.5-31.1 0.5-0.4 0.5 16.3 0.5 24.2 0.5-0.3 0.5-25.5 0.5 18.5 0.5-4.8 0.5-3.6 0.5 1.2 0.5-12.4 0.5 17.6 0.5 3 0.5 19 0.5-20.5 0.5-38.7 0.5 14.4 0.5 17.7 0.5-2.9 0.5-22.2 0.5 19.9 0.5-2.5 0.5 3.6 0.5-0.8 0.5 12.1 0.5 6.3 0.5-8.9 0.5-20.6 0.5 2.9 0.5 2.4 0.5 7 0.5-4.2 0.5 0.9 0.5-6.5 0.5 21.6 0.5-1.1 0.5 1.3 0.5-11.9 0.5 6.2 0.5-15.6 0.5-1.1 0.5 5.4 0.5 13.1 0.5-8.4 0.5-11.4 0.5 14.3 0.5 3.8 0.5-2.9 0.5-9.5 0.5 8.5 0.5-5.5 0.5 1.1 0.5 2.8 0.5 9.7 0.5 12.4 0.5-3 0.5-10.6 0.5-11.8 0.5 1.1 0.5 0.6 0.5 16.3 0.5-45 0.5 34.9 0.5-25.9 0.5 23 0.5 15.3 0.5-25.7 0.5-15.7 0.5 41.2 0.5 2.5 0.5-11.5 0.5 8.7 0.5-23.6 0.5 22.8 0.5 6.1 0.5-12.1 0.5-4.1 0.5 11.6 0.5-1.7 0.5-21.6 0.5 24.3 0.5-7 0.5-6.7 0.5 13.2 0.5-4.3 0.5-2 0.5-14.3 0.5 15.4 0.5-22.3 0.5 11.4 0.5-18 0.5 0 0.5 24.7 0.5-6 0.5 2 0.5 5.9 0.5-2.7 0.5-14.2 0.5 11.1 0.5-1.6 0.5-5.1 0.5 4.6 0.5-2.8 0.5-3.2 0.5 3.7 0.5 6.6 0.5 21.1 0.5-33.1 0.5 15.5 0.5-22.8 0.5 35.2 0.5-22.1 0.5 5.5 0.5 13.1 0.5-3.3 0.5-28.4 0.5 23.6 0.5-9 0.5 9.8 0.5-5.3 0.5 6.8 0.5-5.1 0.5-4.9 0.5 15.2 0.5-31.2 0.5 12.8 0.5-6 0.5 9.4 0.5-3.2 0.5 3.3 0.5-3.9 0.5 0.3 0.5-13.5 0.5 18.5 0.5 4.1 0.5-10.4 0.5-0.6 0.5 0.2 0.5 26.7 0.5-17.1 0.5 2.4 0.5-7.9 0.5-2.2 0.5-4.3 0.5 27.9 0.5-37.3 0.5 23.1 0.5-3.7 0.5-2.6 0.5-15 0.5 3.8 0.5 25.6 0.5-19.2 0.5 18.1 0.5-2.4 0.5-0.9 0.5 2.1 0.5-22.6 0.5 8.5 0.5 13.3 0.5-22.3 0.5 33.7 0.5-25.5 0.5 5.8 0.5-11 0.5 16 0.5-12.6 0.5 5.7 0.5-10.3 0.5 26.9 0.5-32.4 0.5 24 0.5-2.4 0.5 2.3 0.5-16.7 0.5 23.7 0.5-0.8 0.5-9.2 0.5 1.8 0.5-5.3 0.5 9.2 0.5-16.8 0.5 15.9 0.5-1.7 0.5-20.8 0.5-13.9 0.5 28.8 0.5-0.4 0.5 15.9 0.5-13.3 0.5-6.3 0.5-9.9 0.5 14.7 0.5-5.7 0.5-5.9 0.5 11.3 0.5 13.6 0.5-11 0.5-13.1 0.5 15.9 0.5-16.4 0.5-5.5 0.5 23.9 0.5-12 0.5 19.2 0.5-9.2 0.5-12.8 0.5 11.9 0.5 12.4 0.5-17 0.5-10 0.5 4.6 0.5-1.7 0.5-4.2 0.5-1.2 0.5 19.8 0.5 7.9 0.5-16.9 0.5 13.3 0.5 1.4 0.5 9 0.5-21.5 0.5-1.8 0.5 8.9 0.5-3.7 0.5 2.4 0.5 11.5 0.5-19.8 0.5 7.4 0.5-13.7 0.5 9.5 0.5-5.9 0.5-0.9 0.5 6.2 0.5-2.5 0.5 9.4 0.5 5 0.5-26.3 0.5 28.7 0.5-37.1 0.5 28.5 0.5 5.4 0.5-15.7 0.5 4.9 0.5-6.3 0.5 19.3 0.5-46.7 0.5 25.4 0.5-11.1 0.5 24.5 0.5 12.8 0.5-1.2 0.5-6 0.5-4.8 0.5-11.6 0.5 22.9 0.5-6.8 0.5-16.9 0.5-4.9 0.5 7.5 0.5 19.7 0.5 2 0.5 4.2 0.5-27.4 0.5 4.8 0.5 20.1 0.5-13.4 0.5 6.3 0.5-23.9 0.5 11 0.5 4.1 0.5-3.9 0.5-0.6 0.5-14 0.5 37.6 0.5-17 0.5-18.4 0.5 29.2 0.5-11.6 0.5 7.5 0.5-10.4 0.5-6.7 0.5 0.3 0.5 12.7 0.5 5.1 0.5-3.3 0.5 1.9 0.5 6.4 0.5-10.4 0.5 8.3 0.5 1.2 0.5-9.3 0.5-4.2 0.5-4.1 0.5-8.7 0.5-4 0.5 33 0.5-15.2 0.5-6.1 0.5 24.5 0.5-6.9 0.5-10.4 0.5 10.9 0.5-13.7 0.5 6.4 0.5 16.8 0.5-8.7 0.5-15.2 0.5 11.1 0.5 5.7 0.5-14.9 0.5-3.4 0.5 26.5 0.5-25 0.5-11.7 0.5 17 0.5 24.7 0.5-19 0.5 3.9 0.5-35.8 0.5 18.7 0.5 20.3 0.5-18.4 0.5 19.8 0.5-9.5 0.5-0.9 0.5 14.8 0.5-25 0.5 0.4 0.5 6.7 0.5 1.3 0.5-21.9 0.5 33.7 0.5-11.5 0.5-4.5 0.5 9.1 0.5-11.7 0.5 18.5 0.5-13.1 0.5 7.6 0.5-18.5 0.5 7 0.5 7.5 0.5-15.1 0.5 3.3 0.5 7 0.5 13.4 0.5-4 0.5 1.7 0.5-6.9 0.5 6.9 0.5 7.3 0.5-15.7 0.5 3.1 0.5 1.7 0.5-29.7 0.5 21.9 0.5 5.9 0.5 3.9 0.5-12.3 0.5 14.9 0.5-18.6 0.5 5.4 0.5 21.4 0.5-34.9 0.5 14.6 0.5-0.7 0.5 0.6 0.5-5.1 0.5 13.6 0.5-19.7 0.5-2.9 0.5 20.7 0.5-19.2 0.5 18 0.5-4.1 0.5-8.1 0.5 3.9 0.5 2.8 0.5 6.3 0.5-12.4 0.5 4.9 0.5-14.1 0.5 13.3 0.5-18.9 0.5 21.5 0.5-4.7 0.5 29.3 0.5-9.3 0.5-16.5 0.5 12.6 0.5-7.6 0.5-16.4 0.5-14.7 0.5 40.6 0.5-8.3 0.5-26.9 0.5 29.8 0.5 3.2 0.5-18.4 0.5 16.9 0.5-28.8 0.5 17.3 0.5 2.9 0.5 8.6 0.5-4.4 0.5-2 0.5 3.8 0.5-13.8 0.5 24.5 0.5-20.9 0.5 13 0.5-9.1 0.5-2.8 0.5 9.6 0.5-1.6 0.5 10.3 0.5-3 0.5-18.9 0.5 12.3 0.5-4.5 0.5-10.3 0.5-3.5 0.5 15.6 0.5-9.1 0.5-9.7 0.5 14.8 0.5 3.7 0.5-1.4 0.5-15 0.5 7.2 0.5 22.4 0.5-24.5 0.5 5.1 0.5 30.2 0.5-22.4 0.5-9.8 0.5-16.6 0.5 25.9 0.5-19.5 0.5 15.7 0.5-9.6 0.5-9.3 0.5 38.2 0.5-20.2 0.5 11.8 0.5-2 0.5-16.9 0.5 9.4 0.5-5.1 0.5 15.2 0.5-6.1 0.5-9 0.5 23.1 0.5-13.1 0.5-0.6 0.5-14.3 0.5 13.7 0.5-21.5 0.5 22.2 0.5-16.1 0.5 12.9 0.5-5.3 0.5 5.8 0.5 1.5 0.5-4.7 0.5 0 0.5-16.5 0.5-4.7 0.5 36.4 0.5-7.9 0.5-23.6 0.5 39 0.5-30.2 0.5 14.1 0.5-0.9 0.5-3.6 0.5 5.7 0.5-22.8 0.5 15.4 0.5-2.4 0.5 3.9 0.5-4.1 0.5-4.3 0.5-1 0.5 18.6 0.5-19.9 0.5 14 0.5-0.2 0.5-5.1 0.5 6 0.5 1.4 0.5-12.3 0.5 10 0.5 18 0.5-34.2 0.5 8.9 0.5-5.4 0.5 31.7 0.5-38.9 0.5 16.2 0.5 10.6 0.5-20.7 0.5 8.5 0.5-6.6 0.5-7.2 0.5 14.6 0.5 6.5 0.5-10.3 0.5 6.5 0.5 6 0.5 5.9 0.5-27.9 0.5 21.2 0.5-14.1 0.5-14.5 0.5 12.7 0.5 16.3 0.5-3.8 0.5-16.1 0.5 31 0.5-13.8 0.5-5.4 0.5-5.4 0.5 11.1 0.5-9.3 0.5 17.5 0.5-9.4 0.5 3.5 0.5-10.6 0.5-13.4 0.5 23 0.5-17.6 0.5 10.4 0.5 1 0.5-8.7 0.5 19.1 0.5-26.5 0.5 33.5 0.5-23.9 0.5 17.8 0.5 3.8 0.5-24.7 0.5 1.5 0.5 19.2 0.5-8.6 0.5-1.2 0.5-21.9 0.5 2.2 0.5 25 0.5 10.3 0.5-24.6 0.5-1.7 0.5 12.3 0.5 2.9 0.5 1.1 0.5-11.4 0.5-17.2 0.5 38.9 0.5-22.3 0.5 20 0.5-37.1 0.5 27 0.5-9.9 0.5-6.7 0.5 23.5 0.5 3.7 0.5-21.4 0.5 14.1 0.5-19.7 0.5 5.2 0.5 4.3 0.5-1.1 0.5 11.2 0.5-21 0.5 24.8 0.5 0 0.5-13.5 0.5-11 0.5-13.6 0.5 26.4 0.5-7.4 0.5 9.3 0.5-13.2 0.5 12.1 0.5-0.7 0.5 0.8 0.5 3.2 0.5 0.1 0.5 7.7 0.5-20 0.5 17.2 0.5-6.4 0.5-6.6 0.5-6.5 0.5 27.9 0.5-13.8 0.5-8.6 0.5 6.7 0.5-0.8 0.5-6 0.5-9.7 0.5 17.5 0.5-3.6 0.5-1.4 0.5 14.5 0.5-26.2 0.5 4.1 0.5 12.7 0.5 7.7 0.5-2.5 0.5 1.3 0.5-33.3 0.5 30.7 0.5-0.9 0.5 3 0.5-15.5 0.5 13.6 0.5 5.6 0.5 6.9 0.5-15.4 0.5-18 0.5 15.8 0.5 6.7 0.5-1.5 0.5 16 0.5-24.1 0.5-9.2 0.5 4.3 0.5 14.7 0.5-16.5 0.5-2.8 0.5 2.4 0.5 23.2 0.5-11 0.5-6.5 0.5 13.5 0.5-1.8 0.5-18.9 0.5 20.5 0.5-6.6 0.5-26.2 0.5 9.9 0.5 16.5 0.5 2.6 0.5-8.8 0.5-8.1 0.5 14.2 0.5-23.6 0.5 27.1 0.5-8 0.5 1.4 0.5-7.1 0.5 16.9 0.5-35.9 0.5 16.6 0.5 16.5 0.5-14.6 0.5 24.6 0.5-11.7 0.5-13.5 0.5 21.3 0.5-13.6 0.5 7.7 0.5-13.6 0.5 0.2 0.5 14.9 0.5-6.9" stroke="#000" stroke-width="3.0"/>
<path d="M222.50 1146.0l0.5-4.6 0.5 0.6 0.5-13.2 0.5 27.5 0.5-4.3 0.5-9.5 0.5 7.1 0.5-3.3 0.5-5.4 0.5 9.9 0.5-8.4 0.5-0.2 0.5-3 0.5 8.1 0.5-3.7 0.5 4.2 0.5-7.5 0.5 4.7 0.5-6.6 0.5 11.2 0.5-4.2 0.5 0.9 0.5 0.5 0.5-9.3 0.5 11.7 0.5 8.2 0.5-24 0.5-0.6 0.5 1.5 0.5 15.2 0.5-4.6 0.5 6.1 0.5-2.3 0.5-3.3 0.5 0.5 0.5-3 0.5 6.8 0.5-13 0.5 4.6 0.5 4.4 0.5 10.1 0.5-16.7 0.5-2 0.5 3.4 0.5 10 0.5-7.8 0.5 10.2 0.5-20.8 0.5 19.5 0.5-0.5 0.5-15.9 0.5 10.2 0.5 7 0.5-7.3 0.5 5.9 0.5 9 0.5-13.6 0.5-3.5 0.5-3.2 0.5 9.3 0.5-5.5 0.5 0.2 0.5 0.5 0.5 5 0.5-11.1 0.5-2.9 0.5-5.9 0.5 23.7 0.5-7.2 0.5 9.4 0.5-9.8 0.5-4.7 0.5 8 0.5-3.5 0.5-7.6 0.5 2.5 0.5 17.3 0.5-9 0.5 0.5 0.5-4.4 0.5-2.6 0.5 10.4 0.5-6.4 0.5-4.1 0.5 4.2 0.5-4.9 0.5 7.3 0.5 6.2 0.5-12.6 0.5 14.9 0.5-13.5 0.5 5.5 0.5-6.2 0.5 4.2 0.5 1.9 0.5-2.9 0.5-1.5 0.5 0.4 0.5-0.8 0.5-4.6 0.5 8.8 0.5 4.5 0.5 3.6 0.5-1.5 0.5 12.1 0.5-13.7 0.5-4.8 0.5 15.4 0.5-18.7 0.5 13.4 0.5-12.2 0.5 8.8 0.5-14.9 0.5 18.9 0.5-6.6 0.5-5 0.5 17.5 0.5-5.7 0.5-4.4 0.5-4.9 0.5 4.8 0.5-0.5 0.5 6 0.5 0.7 0.5-9.3 0.5 1 0.5 0.3 0.5-5.1 0.5 5.1 0.5 3.5 0.5 5.2 0.5 4.3 0.5-13.7 0.5 9 0.5-6.3 0.5 16.5 0.5-13.6 0.5 3.7 0.5-9.2 0.5 0.9 0.5 6.7 0.5-3.6 0.5 4.9 0.5-12.3 0.5 14.5 0.5-10 0.5 17.2 0.5-13 0.5 9.1 0.5-16 0.5 11.9 0.5-8.4 0.5 2.7 0.5 3.4 0.5-2.1 0.5 3.9 0.5 3.2 0.5-0.5 0.5-4.7 0.5-8.2 0.5 3.7 0.5 4.1 0.5-12.5 0.5 18.8 0.5-6.4 0.5 0 0.5 7.9 0.5-1.8 0.5-2.8 0.5-7.9 0.5 8.6 0.5 0.2 0.5-7.9 0.5 12.6 0.5-3.5 0.5-16.1 0.5 13.6 0.5-9 0.5 15.7 0.5-2.2 0.5-12.4 0.5 1.4 0.5 6.4 0.5-2.2 0.5 11.4 0.5-5.1 0.5-6.7 0.5 5.5 0.5-17 0.5 15.2 0.5 3.5 0.5-6.8 0.5-3.6 0.5 8.2 0.5 9 0.5-11.5 0.5-8.7 0.5 16.6 0.5-21.7 0.5 15.3 0.5-7.1 0.5 9.7 0.5-11.7 0.5 14 0.5-6.8 0.5-13.3 0.5-1.7 0.5 10.6 0.5 10.3 0.5-7.7 0.5-0.5 0.5-2.1 0.5 6.2 0.5-2.5 0.5-0.8 0.5-8.4 0.5 14 0.5 1 0.5-17.4 0.5 23.2 0.5-10.4 0.5-8 0.5-9.3 0.5 16.5 0.5-0.8 0.5-7.6 0.5-7.9 0.5 18.8 0.5-11.3 0.5 0.6 0.5 21.5 0.5-4.8 0.5-7.8 0.5-9.3 0.5 7 0.5-19.2 0.5 15.4 0.5-5.8 0.5-3.5 0.5-2.1 0.5 13.6 0.5-3 0.5 0.3 0.5 4.3 0.5-11.1 0.5-2.7 0.5-3.7 0.5 9.2 0.5 7 0.5-6.1 0.5 5 0.5-12 0.5 4.5 0.5-2.1 0.5-3.3 0.5 20 0.5-6.7 0.5-10.6 0.5-0.2 0.5 4.4 0.5-9.1 0.5 12 0.5-11.4 0.5 5.9 0.5-4.5 0.5 3.4 0.5-5.7 0.5-1.7 0.5 3.8 0.5 1.7 0.5 2.3 0.5 2.2 0.5 9.3 0.5-4.8 0.5-7.1 0.5 6.2 0.5-9.4 0.5 13.8 0.5-6 0.5-12.6 0.5 13.6 0.5 0.2 0.5-22.9 0.5 12.4 0.5 1.6 0.5-9.6 0.5 5.4 0.5 0.6 0.5 9.3 0.5-1.5 0.5 14.9 0.5-19.8 0.5 9.9 0.5-7.2 0.5 1.1 0.5-9.5 0.5-5.1 0.5 7.3 0.5 9.8 0.5 5.1 0.5-6.5 0.5-0.9 0.5-8.8 0.5 15.2 0.5-1.4 0.5-12.4 0.5 3 0.5-6.4 0.5 15.9 0.5-7.1 0.5-3.4 0.5 3.1 0.5 0 0.5-5.7 0.5-5.6 0.5-0.4 0.5-3.1 0.5 14.1 0.5 11.2 0.5-25.6 0.5 11.8 0.5 1.6 0.5-9.3 0.5 7.6 0.5-8.6 0.5 14.8 0.5-11.9 0.5 4.4 0.5 3.6 0.5-7.4 0.5-9 0.5 8 0.5 8.3 0.5-5.7 0.5 1.9 0.5-8.7 0.5 7.8 0.5 3.6 0.5-4.6 0.5 12 0.5-13.9 0.5-5.6 0.5-3.9 0.5 17.8 0.5-8 0.5 6.8 0.5-3.8 0.5 7.5 0.5-2.5 0.5-10.9 0.5 4.1 0.5 5.1 0.5-15.3 0.5 17.3 0.5-1.7 0.5-1.7 0.5-7.8 0.5 3.1 0.5-9.4 0.5 7.4 0.5-4.3 0.5 4.2 0.5-4 0.5 4.9 0.5 5.6 0.5-16.3 0.5 14.3 0.5-19.1 0.5-1.3 0.5 13.1 0.5 0.6 0.5 2.6 0.5-13.7 0.5 10.1 0.5 1 0.5 7.1 0.5-9 0.5 3.9 0.5-10 0.5 5 0.5-1.9 0.5 7.2 0.5-11.2 0.5 0.8 0.5 8.9 0.5 7.7 0.5-9.4 0.5-0.7 0.5-4.5 0.5 9.1 0.5-3.9 0.5 7.5 0.5-9.4 0.5-8.6 0.5 2.2 0.5-3 0.5-2.1 0.5 16 0.5-3.3 0.5-13.6 0.5 19.2 0.5-10.3 0.5-8.2 0.5 8.3 0.5-3.4 0.5-5 0.5-8 0.5 12.4 0.5 1.2 0.5-19.2 0.5 19.9 0.5 0 0.5-7.6 0.5 3.3 0.5-3.1 0.5-4.1 0.5 2.6 0.5 10.6 0.5-18.8 0.5 10.5 0.5-0.9 0.5-6.4 0.5 1.2 0.5-6.8 0.5 3.1 0.5 5.1 0.5 1.4 0.5-8.5 0.5 25.2 0.5-24.1 0.5 4 0.5-2.9 0.5-1.6 0.5 10.5 0.5-12.1 0.5 11.3 0.5-1.8 0.5-14.7 0.5 13 0.5-11.4 0.5 21.5 0.5-20.8 0.5-4 0.5-6.8 0.5 3.6 0.5 4.2 0.5-3.2 0.5-1.9 0.5 3 0.5 2.8 0.5 10.3 0.5-20.8 0.5 7.1 0.5-3 0.5-4.1 0.5 1.3 0.5 1.9 0.5 10.2 0.5-6.3 0.5-2.6 0.5 7.2 0.5-2.5 0.5-3.7 0.5 3.6 0.5-8.2 0.5 9.1 0.5-1.3 0.5-6.1 0.5-5.6 0.5 17.5 0.5-9.6 0.5 18.9 0.5-24.4 0.5 9.5 0.5-8.7 0.5 4.1 0.5 3.5 0.5-11 0.5 4.3 0.5 1.3 0.5-0.6 0.5 2.8 0.5 2.5 0.5-1.5 0.5-4.1 0.5-4.3 0.5-5.4 0.5 2.3 0.5 1 0.5 7.6 0.5-7.2 0.5-6 0.5 11.8 0.5-9.6 0.5-0.1 0.5 3.2 0.5 4.2 0.5-19.1 0.5 8.1 0.5 8.1 0.5-3.9 0.5-3.6 0.5 1.8 0.5 12.2 0.5-12.4 0.5 7.3 0.5 0.1 0.5-8.4 0.5 5.5 0.5-6.2 0.5-1.4 0.5-3.8 0.5 12.7 0.5-8.7 0.5-1.4 0.5-4.1 0.5 18.7 0.5-7.3 0.5-6.1 0.5-4.1 0.5-5.8 0.5 11.4 0.5-0.4 0.5-11.5 0.5 16.3 0.5-2.9 0.5-11.7 0.5 2.2 0.5 0.4 0.5 3.4 0.5-2.4 0.5-10.1 0.5 19.8 0.5-7.9 0.5 5.7 0.5-0.5 0.5-9.9 0.5 3.2 0.5 2.1 0.5-0.2 0.5-6.5 0.5-3.4 0.5 3.9 0.5-5.9 0.5 1.2 0.5-10 0.5 13.4 0.5-7.7 0.5 2.7 0.5 2.9 0.5 2 0.5 9.8 0.5-11.3 0.5-10.9 0.5 9.6 0.5-5.1 0.5 6.1 0.5-7.4 0.5-0.5 0.5 0.9 0.5-1.1 0.5-8.2 0.5 7.2 0.5 3.9 0.5 7.6 0.5-10.1 0.5-0.9 0.5 5.9 0.5-0.6 0.5 6.5 0.5-6.9 0.5-4.3 0.5 8.5 0.5 0.9 0.5-13.3 0.5 3.8 0.5-12.3 0.5 8.2 0.5-3.7 0.5 4 0.5-2.1 0.5 1.7 0.5 0.1 0.5 3.5 0.5-2 0.5-5.5 0.5-5.1 0.5 16.1 0.5 0.8 0.5-12.5 0.5 6.2 0.5-13.9 0.5-0.6 0.5 8 0.5 11 0.5-16.8 0.5 1 0.5 15.5 0.5-23.2 0.5 16.1 0.5-1.4 0.5-4.9 0.5 2.1 0.5 15.4 0.5-24.8 0.5 4.8 0.5 0.1 0.5-3.4 0.5-4.7 0.5 18.6 0.5-9.4 0.5-13.3 0.5 6.3 0.5 6.8 0.5-0.5 0.5-12.5 0.5 8.2 0.5 1.8 0.5 0.4 0.5-0.5 0.5-15 0.5 23.4 0.5-11.2 0.5 9.9 0.5 6.3 0.5-20.2 0.5-7.5 0.5 13.1 0.5-7.3 0.5-2.3 0.5-4.3 0.5 17.1 0.5-14.4 0.5-6.7 0.5 5.6 0.5-5.2 0.5 8 0.5-4.3 0.5-4.7 0.5 10.2 0.5-8.7 0.5 8.4 0.5 2.9 0.5-11.1 0.5-2.4 0.5 5 0.5 4 0.5-6.4 0.5 0.5 0.5-1.6 0.5 1.7 0.5 1.6 0.5-9.1 0.5 1 0.5 3 0.5-5 0.5 4.8 0.5 2.2 0.5-4 0.5-4.1 0.5-1.5 0.5 16.1 0.5-6 0.5-13.3 0.5 1.5 0.5 17.3 0.5-2.7 0.5-9.3 0.5 6.4 0.5-17.5 0.5 9.4 0.5 4.5 0.5-17.2 0.5 6.8 0.5 9.9 0.5 1.9 0.5-11.5 0.5 5.5 0.5 8.2 0.5-13.1 0.5-6.5 0.5 8 0.5-2.5 0.5 10.8 0.5-7.7 0.5-6.6 0.5 20.5 0.5-19.1 0.5 6 0.5 1 0.5 0.4 0.5-4.3 0.5 2.4 0.5-4.6 0.5-9.1 0.5 7.5 0.5-0.2 0.5-0.2 0.5 1.8 0.5-5.3 0.5 12.3 0.5 1.3 0.5-24.8 0.5 14 0.5-5 0.5-12.7 0.5 19.3 0.5-7 0.5 1.3 0.5-2.2 0.5 11 0.5 0.7 0.5-6.6 0.5 2.3 0.5-5.5 0.5 1.3 0.5-6.1 0.5 4.7 0.5-5.2 0.5 6.7 0.5 2.6 0.5-3.7 0.5 5.4 0.5 9.4 0.5-31.5 0.5 13.4 0.5-4.2 0.5 0.4 0.5-6.3 0.5 8.8 0.5-2.4 0.5-2.8 0.5 2.1 0.5-2.6 0.5-11.8 0.5 21.8 0.5-9.4 0.5-4.6 0.5 7.8 0.5-6.8 0.5-10.2 0.5 19.4 0.5-17.1 0.5 9 0.5 1.8 0.5 7.5 0.5-1.6 0.5-7.1 0.5-6.6 0.5 1.8 0.5 9.2 0.5 4 0.5-8.6 0.5-8.3 0.5 10.3 0.5-9.8 0.5-0.8 0.5 0.2 0.5 5 0.5-2.7 0.5 4 0.5 1.2 0.5-5.8 0.5-19.2 0.5 3.4 0.5 11.3 0.5-2.2 0.5 13.7 0.5-15 0.5-1.6 0.5 6.3 0.5 0 0.5-9.2 0.5 3.8 0.5-11.3 0.5 0.4 0.5 13.3 0.5-18 0.5 14.3 0.5-2.4 0.5-0.2 0.5 0.1 0.5-3.1 0.5-18.4 0.5 6.5 0.5 1.8 0.5 9.1 0.5-14.1 0.5 1.9 0.5 1.4 0.5 10.1 0.5-18.7 0.5-0.2 0.5 12.1 0.5-18.7 0.5 15.2 0.5-5.9 0.5-8.1 0.5 6.8 0.5-4.6 0.5 6.8 0.5 0.6 0.5 6.5 0.5-10.5 0.5-0.1 0.5-5.1 0.5 2.8 0.5 6.2 0.5-20.1 0.5 16.1 0.5-8.6 0.5 3.2 0.5 0.9 0.5 2.6 0.5-4.7 0.5-4.9 0.5 3.8 0.5-2.7 0.5-2.2 0.5 1.9 0.5 3.6 0.5-5.6 0.5-0.7 0.5-10.1 0.5 6.7 0.5-12 0.5 15.9 0.5-11.6 0.5 13.8 0.5 10.2 0.5-22.9 0.5 10.4 0.5-6.8 0.5-7.1 0.5-2.7 0.5 8.3 0.5 4.6 0.5-7.6 0.5-13 0.5 2.2 0.5 4.4 0.5 9.4 0.5-7.9 0.5-0.6 0.5 4.9 0.5-10.1 0.5-0.2 0.5-1.6 0.5-11.3 0.5 13.7 0.5-1.4 0.5 2.7 0.5-15 0.5 1.4 0.5 10.3 0.5-5 0.5 5.8 0.5-15.5 0.5 5.8 0.5-6.7 0.5 5.3 0.5-6.3 0.5 5.6 0.5 2.5 0.5-3.8 0.5-17.2 0.5 16.8 0.5-4.3 0.5-10.8 0.5-0.1 0.5 4.7 0.5 2.6 0.5-7.7 0.5-8.7 0.5 11.3 0.5-1.8 0.5 13.7 0.5-25.3 0.5 23.7 0.5-6.1 0.5-10.4 0.5 7.8 0.5-11.2 0.5 4.7 0.5-12.1 0.5 4.2 0.5-8.1 0.5-4.7 0.5 7.5 0.5-3.5 0.5 7 0.5 3.5 0.5-10.3 0.5 0.4 0.5-0.1 0.5-13.1 0.5 11.6 0.5-2.7 0.5-1.3 0.5-7.9 0.5-6.7 0.5 10.3 0.5 2.7 0.5 5.6 0.5-2.3 0.5 1.1 0.5-8 0.5 4.1 0.5-9.9 0.5 4.5 0.5 0.9 0.5 10.5 0.5-16.9 0.5-10.9 0.5 16.3 0.5-15.1 0.5 3.8 0.5-2.5 0.5-5 0.5 13.6 0.5-5.8 0.5-8.8 0.5 3.4 0.5-4.2 0.5 5.8 0.5-7.4 0.5-3.5 0.5-0.2 0.5 0.3 0.5 3.8 0.5-8.9 0.5 4.4 0.5 2.5 0.5 11.3 0.5-10.6 0.5-26 0.5 15 0.5-0.2 0.5 3.6 0.5 7.1 0.5-6.5 0.5-20.8 0.5 15.9 0.5-2.4 0.5 0.9 0.5 5 0.5-17 0.5 13.1 0.5-19 0.5 9.9 0.5 1 0.5 11.3 0.5-20.6 0.5-7.6 0.5 14.3 0.5-10 0.5 13.3 0.5-16 0.5-2.3 0.5 12.6 0.5-8.8 0.5 4.8 0.5-17.1 0.5 18.8 0.5-15.7 0.5 7.9 0.5-13.1 0.5-4.8 0.5 7.2 0.5 1.6 0.5 7.8 0.5-9.2 0.5 1.1 0.5-1.6 0.5 14.7 0.5-26.8 0.5 12.2 0.5-10.4 0.5 1.4 0.5-6.5 0.5 9.8 0.5-17 0.5-1.7 0.5 5.9 0.5-7.4 0.5 10.8 0.5 0.1 0.5-12.2 0.5 8.7 0.5-10.7 0.5 2.8 0.5-0.9 0.5 10.9 0.5-13.5 0.5-7.1 0.5-1.2 0.5 12.6 0.5-19.8 0.5 6.6 0.5-0.5 0.5-14.5 0.5 11.8 0.5 8.5 0.5-6 0.5-8.3 0.5 9.4 0.5-2.1 0.5 8.9 0.5-18.9 0.5 1.5 0.5 1.9 0.5-1.9 0.5 0.6 0.5-2 0.5-4.6 0.5-6.7 0.5 6 0.5-6.1 0.5 1.4 0.5 2.6 0.5 6.1 0.5 1.5 0.5-13.1 0.5 8 0.5 2.4 0.5-6.3 0.5-11.1 0.5-4.2 0.5 18.4 0.5-0.1 0.5-5 0.5-9.5 0.5 15.4 0.5-2.4 0.5-9.1 0.5-2.1 0.5-12.2 0.5 16.7 0.5-16.3 0.5 13.9 0.5-0.6 0.5-5 0.5 8.7 0.5-13.3 0.5 5.1 0.5 0.4 0.5-4.4 0.5-5.2 0.5 9.9 0.5-6 0.5-4.8 0.5-0.6 0.5 1.3 0.5 13.2 0.5-14.8 0.5-2.9 0.5-6 0.5-1.6 0.5-5 0.5 13.3 0.5-1.8 0.5-7.4 0.5-3.5 0.5 7.1 0.5-1.8 0.5-5.7 0.5 10.2 0.5-1.4 0.5-1.6 0.5 5 0.5-9.6 0.5 12.8 0.5-15.7 0.5 9.6 0.5 0.6 0.5-6.1 0.5 3.8 0.5-10.9 0.5-1.6 0.5 8.3 0.5-3.6 0.5 8.4 0.5-3.7 0.5 3.7 0.5-2 0.5-0.9 0.5-0.7 0.5-3.1 0.5-0.6 0.5 16.3 0.5-24.6 0.5 10.3 0.5 7.8 0.5-3.6 0.5 6.6 0.5-5.5 0.5-11.6 0.5 6.3 0.5-6.7 0.5 15.7 0.5 3.3 0.5-12 0.5 6.7 0.5-5.9 0.5-6.4 0.5 6.8 0.5-7.1 0.5 7 0.5 5.4 0.5 3.7 0.5 4 0.5-10.2 0.5 4.1 0.5 1.5 0.5 1.3 0.5-21.8 0.5 13.9 0.5 10.6 0.5-12 0.5 9.2 0.5 4.3 0.5-17.3 0.5 11.5 0.5 3.2 0.5-1 0.5-9.6 0.5 12.7 0.5-5.4 0.5 9.5 0.5-2 0.5-5.9 0.5 5.3 0.5-5.1 0.5 0.5 0.5-5.1 0.5 9.3 0.5 7.4 0.5-3.9 0.5-0.2 0.5-3.3 0.5 1.4 0.5 9 0.5-13.8 0.5 23.9 0.5-13 0.5 15.4 0.5-5.6 0.5-9.5 0.5 8.5 0.5-2.2 0.5 2.3 0.5 3.2 0.5-7.7 0.5 0.6 0.5 2.4 0.5-5.1 0.5 8.3 0.5 4.3 0.5 1.3 0.5 0.8 0.5-2.7 0.5 8.8 0.5-17.3 0.5 11.9 0.5 1.6 0.5 9.1 0.5-0.4 0.5 2 0.5-4.1 0.5 7.2 0.5-11.7 0.5 8.1 0.5-13.2 0.5 25.9 0.5 0.2 0.5-13.3 0.5-0.7 0.5-7.2 0.5 4.6 0.5 11.6 0.5-0.9 0.5-7.7 0.5 7.2 0.5-0.3 0.5 8.2 0.5 2.4 0.5-5.2 0.5 2.9 0.5 0 0.5-12.7 0.5 15.5 0.5-0.9 0.5 6.1 0.5-16 0.5 17.6 0.5-8.3 0.5 6.6 0.5 6.9 0.5-16.7 0.5 1.9 0.5 15.8 0.5-13.1 0.5 2 0.5 11 0.5-4.5 0.5 7.3 0.5-2.3 0.5-1.2 0.5 7.4 0.5 8.8 0.5-14 0.5 11.2 0.5-1.3 0.5-5.7 0.5 3.3 0.5-8.1 0.5 3.1 0.5 6.9 0.5-1 0.5 9.8 0.5-15.8 0.5 7.6 0.5-1.1 0.5 4.3 0.5 9.7 0.5-14.2 0.5 14.5 0.5-8.1 0.5 2.9 0.5 9.8 0.5-7.1 0.5 7.4 0.5-2.4 0.5-0.6 0.5 0 0.5-7.6 0.5 7.6 0.5 7.3 0.5 1.5 0.5-9.8 0.5 17.5 0.5-1.5 0.5-10.9 0.5 3 0.5 11.4 0.5-13.5 0.5 7.9 0.5 5.8 0.5 0.9 0.5 1.8 0.5 4.2 0.5-6.4 0.5 3.4 0.5 17.9 0.5-21.1 0.5 7.5 0.5 5 0.5-3.5 0.5 13.5 0.5-6.1 0.5 5.8 0.5-20.5 0.5 26 0.5 1.1 0.5-11 0.5 14.7 0.5-5.5 0.5 5.5 0.5 7 0.5-9.9 0.5-6 0.5 7.6 0.5-7.1 0.5 4.2 0.5 1.4 0.5 1.4 0.5 13.2 0.5-1.1 0.5-10.3 0.5 14.2 0.5-17.4 0.5 7.6 0.5 4.3 0.5 9.6 0.5-2.1 0.5-0.9 0.5 6.4 0.5-2.9 0.5 5.1 0.5-13.2 0.5-5 0.5 9.2 0.5 8.9 0.5-2.8 0.5 4.9 0.5-0.3 0.5-0.4 0.5 2.9 0.5-9.2 0.5 12.7 0.5-12.8 0.5 6.7 0.5-7.6 0.5 13.4 0.5-12.6 0.5 20.2 0.5-17 0.5 11.3 0.5-1.7 0.5-3.9 0.5 14.7 0.5-10.1 0.5 13.3 0.5-15.4 0.5 2.4 0.5-6.9 0.5 17.5 0.5 3.2 0.5-3.6 0.5-1.6 0.5-4.1 0.5 22.2 0.5-9.6 0.5-15.9 0.5 10.8 0.5-14.1 0.5 28.2 0.5 3.5 0.5-2.5 0.5-9 0.5-2.6 0.5-4.4 0.5 13.5 0.5-7.5 0.5 3.3 0.5-0.8 0.5 3 0.5 8.7 0.5 6.1 0.5-9.2 0.5 0 0.5-6.5 0.5 0.2 0.5 1.9 0.5 13.6 0.5-3.3 0.5 5.6 0.5-2.7 0.5-4.5 0.5-4.6 0.5 6.6 0.5-6 0.5 23.2 0.5-10.4 0.5-3.3 0.5 16.3 0.5-14.6 0.5 7.1 0.5-3.9 0.5 4.3 0.5-3.8 0.5 6.5 0.5 7 0.5-16.6 0.5-5.4 0.5 24.3 0.5-6.9 0.5 5.5 0.5-6.7 0.5 12.9 0.5 2.8 0.5-18.7 0.5 12.9 0.5-7.5 0.5-5.7 0.5 9.5 0.5 6.5 0.5-11.8 0.5 1.4 0.5 17.4 0.5-7.1 0.5 3.3 0.5-9.3 0.5 4 0.5 5.9 0.5 1.3 0.5 0.5 0.5 10.3 0.5-8.6 0.5-10.4 0.5 5.1 0.5 6.1 0.5 9.5 0.5-12.1 0.5 2.6 0.5 3.1 0.5-3.7 0.5-0.1 0.5 4.6 0.5 8.7 0.5-2.7 0.5-4.3 0.5 5.1 0.5-10.4 0.5 15.7 0.5-1.1 0.5-2.2 0.5-12.1 0.5 24.7 0.5-31.9 0.5 13.3 0.5 1.1 0.5 11.2 0.5-13.8 0.5 12 0.5-2 0.5-0.3 0.5 8.2 0.5 4.3 0.5-6.2 0.5-3.8 0.5-12.6 0.5 25.2 0.5-11.1 0.5-9.6 0.5 13.8 0.5 9 0.5-9.9 0.5-6.2 0.5 23.1 0.5-10.2 0.5-1.2 0.5 4.9 0.5-20.4 0.5 14.4 0.5-0.1 0.5 16.6 0.5-18.1 0.5 0.6 0.5-5 0.5 4.3 0.5 4.6 0.5 3.6 0.5-2.5 0.5 15.1 0.5-9.4 0.5 1.5 0.5 5.3 0.5-4.3 0.5-7.1 0.5-6.2 0.5 13.1 0.5-7.3 0.5 14.7 0.5-13.2 0.5-9.1 0.5 15.5 0.5 7.3 0.5-7.9 0.5 3 0.5 0.4 0.5 10.8 0.5-8.8 0.5-1.8 0.5-3.3 0.5-6.2 0.5 20.6 0.5-1.2 0.5-13.4 0.5 10.9 0.5-1.4 0.5-4.2 0.5 1 0.5 7.5 0.5-12.4 0.5 5 0.5 3.4 0.5 1 0.5-0.9 0.5 3.3 0.5 2.6 0.5-8.9 0.5 6.9 0.5-3.6 0.5 14 0.5-18.8 0.5 8.2 0.5 6.7 0.5-6 0.5 0.1 0.5-0.9 0.5 6.1 0.5-9.2 0.5 7.6 0.5 0.4 0.5-8.6 0.5 12 0.5-4.4 0.5 5.6 0.5 4.1 0.5-2.9 0.5-9.6 0.5 10.4 0.5-12.2 0.5 6 0.5 16.5 0.5-10.5 0.5 10.7 0.5-11 0.5 1.7 0.5-6.9 0.5 14 0.5-7.1 0.5 5.9 0.5-0.7 0.5 1.1 0.5-0.9 0.5-2 0.5 0.8 0.5-4.1 0.5-9 0.5 17.7 0.5 10.9 0.5-6.1 0.5 8.7 0.5-11.7 0.5-9.1 0.5 0.3 0.5 11.9 0.5-2.2 0.5-2.9 0.5 6.4 0.5-10.2 0.5 9.6 0.5-4.8 0.5 3.3 0.5 7.2 0.5-8.3 0.5 10.4 0.5 0.1 0.5-13.3 0.5 20.7 0.5-23.1 0.5 7.9 0.5 5.9 0.5-19.4 0.5 22.2 0.5 1.1 0.5-7.8 0.5 2.9 0.5 0 0.5-2.4 0.5 8.8 0.5-9.1 0.5 2.5 0.5 3.1 0.5 3.6 0.5 2 0.5-16.6 0.5-3.3 0.5 12.8 0.5 0.9 0.5-6.4 0.5 9.5 0.5 2.5 0.5-1.3 0.5 8.8 0.5-17.4 0.5 7.3 0.5 13 0.5-7.9 0.5-11.5 0.5 9 0.5 6.8 0.5 6.3 0.5-9 0.5 3.7 0.5-14.7 0.5 6 0.5 9.9 0.5-13.9 0.5 6.3 0.5-11.6 0.5 22.4 0.5-10.3 0.5 4.9 0.5-13.3 0.5 1.6 0.5 21 0.5-13.9 0.5-1 0.5 7.3 0.5 0.6 0.5-16.3 0.5 6.9 0.5 7.1 0.5 0 0.5 2.6 0.5-4.8 0.5 1.3 0.5 3.6 0.5-5.7 0.5-0.6 0.5 2.2 0.5 4 0.5-0.7 0.5-1.9 0.5 1.9 0.5 1.6 0.5 2.8 0.5 0.5 0.5-10.5 0.5 15.2 0.5-16.6 0.5 14.4 0.5-7.9 0.5 8.8 0.5 3.4 0.5-19 0.5 16.6 0.5-1.8 0.5-4.6 0.5 5.9 0.5-5.5 0.5 4.4 0.5-7.4 0.5 12.3 0.5-0.9 0.5 1.3 0.5-8.9 0.5 16.7 0.5 1.2 0.5-13.3 0.5-1.8 0.5 0.3 0.5 7.5 0.5 2.6 0.5-11.4 0.5-8.1 0.5 16.6 0.5-3 0.5 1.7 0.5 2.6 0.5-10.4 0.5 8 0.5-2.1 0.5 4.7 0.5 5.8 0.5-7.7 0.5-5.3 0.5 14.1 0.5-3.3 0.5-5.7 0.5-10.2 0.5 6.4 0.5 6.9 0.5 3 0.5-6.8 0.5 6.6 0.5-6.7 0.5 1.6 0.5 6.6 0.5-5 0.5 2.9 0.5 5.1 0.5 2 0.5-11 0.5 2.5 0.5-6.8 0.5 0.4 0.5 10.8 0.5-5.1 0.5-8.4 0.5 15.8 0.5-8.6 0.5 3.7 0.5 5 0.5 0.2 0.5-2.7 0.5-12.4 0.5 17 0.5-7.4 0.5-5 0.5-4.9 0.5 23.2 0.5-7.4 0.5 0.1 0.5 3.5 0.5-4.2 0.5-8.9 0.5 14.4 0.5 2.3 0.5-2.9 0.5 6.9 0.5 2.7 0.5-17.4 0.5 2.6 0.5 8.9 0.5-4.4 0.5 0.5 0.5 5 0.5-1 0.5-7.5 0.5 4 0.5-5.2 0.5 3.6 0.5-5.7 0.5-5.3 0.5 9.8 0.5-0.4 0.5 9.9 0.5 4.7 0.5-9.9 0.5 3.2 0.5-7 0.5-1.6 0.5 4.4 0.5 0.2 0.5 4 0.5-0.9 0.5 10.3 0.5-12 0.5-9.1 0.5 11.8 0.5-4.8 0.5 5.8 0.5 6.2 0.5-11.2 0.5 3.9 0.5 4 0.5-9.2 0.5 7.7 0.5 2.4 0.5 2 0.5 2 0.5-3.3 0.5-0.8 0.5-11.4 0.5-8.1 0.5 11.3 0.5 15.8 0.5-8.3 0.5-15.2 0.5 12.1 0.5 5.3 0.5-14.1 0.5 15.9 0.5-10.9 0.5 14.4 0.5-6.3 0.5 20.1 0.5-28.6 0.5 10.7 0.5-11.2 0.5 17.3 0.5-6.5 0.5 5.4 0.5-5.1 0.5-8.1 0.5 3.6 0.5-3.6 0.5 1.4 0.5 8 0.5 6.2 0.5-1.2 0.5-2 0.5-6.8 0.5 7.1 0.5-8.6 0.5 7.1 0.5 4.2 0.5-6.4 0.5-1.7 0.5 0.5 0.5 7 0.5-5.8 0.5-7.1 0.5 6.8 0.5-4.1 0.5 16.8 0.5-9.4 0.5-9.4 0.5 11.4 0.5 3.1 0.5-2 0.5-4.6 0.5 3.5 0.5 1 0.5 4.9 0.5-4 0.5 12.6 0.5-15.9 0.5 11.4 0.5-9.6 0.5-10.9 0.5 3.6 0.5-4 0.5 0.8 0.5 19.1 0.5-11.9 0.5 8.4 0.5-9.5 0.5 5.9 0.5-6.6 0.5 12.6 0.5-7.1 0.5-1.1 0.5 2.1 0.5 15.3 0.5-11 0.5 2.7 0.5-13.3 0.5 4 0.5 6.3 0.5-13.8 0.5 20.9 0.5-6.7 0.5-1.7 0.5-1 0.5-0.1 0.5-1.6 0.5 12.5 0.5-4.4 0.5 3.8 0.5-9.9 0.5-3.5 0.5 14.6 0.5-16.5 0.5 4.1 0.5 8.7 0.5 2.6 0.5-15.4 0.5 6.9 0.5 2.2 0.5-0.9 0.5-4.5 0.5 10 0.5-7.6 0.5 2 0.5-12.8 0.5 14 0.5-11.7 0.5 17.3 0.5-1.2 0.5-6.3 0.5 4.5 0.5-0.2 0.5-1.5 0.5 3.5 0.5-3 0.5-2.2 0.5-1.8 0.5 16.1 0.5-9.4 0.5-1.3 0.5 5 0.5-7 0.5 0.2 0.5 6.9 0.5 2.5 0.5-2.2 0.5-13.7 0.5 10.1 0.5-0.4 0.5 3.2 0.5-8.4 0.5-1 0.5 6.2 0.5-4.8 0.5-1 0.5 6.6 0.5 6.6 0.5-5 0.5 6.5 0.5-13.5 0.5 11.1 0.5-4.4 0.5-5.5 0.5 3.1 0.5-2.6 0.5 4.2 0.5-3.2 0.5 13 0.5-10.2 0.5-6.7 0.5 8 0.5 3.9 0.5-4.4 0.5 7.7 0.5-11.2 0.5 0.5 0.5 16.1 0.5-10.3 0.5 3.6 0.5-0.1 0.5 0.6 0.5-3.3 0.5-1.3 0.5 8.3 0.5-10 0.5 4.1 0.5 3.8 0.5-6.8 0.5-7.2 0.5 12.9 0.5 4.1 0.5-5.1 0.5-12.2 0.5 14.9 0.5 8.7 0.5-22.4 0.5-7.3 0.5 15.9 0.5 2.2 0.5 4.6 0.5 0.4 0.5-4.5 0.5 3 0.5-1.2 0.5-1.2 0.5-1.1 0.5-0.5 0.5 5.6 0.5-1.8 0.5-5.1 0.5 9.8 0.5-11.5 0.5 3.3 0.5 2.4 0.5-12.8 0.5 9.8 0.5 7.9 0.5-0.1 0.5-12.7 0.5 2.5 0.5-1.5 0.5 5.5 0.5 1.2 0.5-9.6 0.5 12.2 0.5-1.4 0.5-0.8 0.5-3.7 0.5 3.2 0.5-10 0.5 12.8 0.5 0 0.5-1.9 0.5-6.7 0.5 15.6 0.5-0.8 0.5-18.9 0.5 14.6 0.5-1.5 0.5-17.2 0.5 19.7 0.5 0.9 0.5 0.6 0.5-3.5 0.5-5 0.5 1 0.5 6.5 0.5 4.3 0.5-10.4 0.5 1.4 0.5 6.3 0.5-17.9 0.5 16.5 0.5-4.2 0.5-12.3 0.5 18.9 0.5-10.6 0.5 10.9 0.5 3.8 0.5-16.5 0.5 0.4 0.5 7.6 0.5-10.9 0.5 15.8 0.5-3.4 0.5 5.1 0.5-17.7 0.5 13 0.5 1.7 0.5-14.2 0.5 17.1 0.5-14.2 0.5 9.9 0.5-9.4 0.5 13.4 0.5 5.9 0.5-10.3 0.5-0.1 0.5 8.2 0.5-11 0.5 3.3 0.5 4.9 0.5-2.4 0.5 7.4 0.5-2.3 0.5 4.7 0.5-12.1 0.5 7.3 0.5-12.2 0.5 11.1 0.5 5.5 0.5 3.8 0.5-22.7 0.5 6.9 0.5 5.8 0.5-10 0.5 9.1 0.5 0 0.5-6.4 0.5-0.2 0.5-2.4 0.5 7.9 0.5 6.1 0.5-6.1 0.5 15.9 0.5-27 0.5 5.8 0.5 8 0.5-11.4 0.5 9.5 0.5 3.1 0.5-4 0.5-2.5 0.5 7.5 0.5-3.3 0.5 2.1 0.5-1.1 0.5-7.7 0.5-2.6 0.5 4.6 0.5 3.6 0.5-2.3 0.5 7.3 0.5-4.3 0.5 4.6 0.5-5.3 0.5-5.3 0.5 10 0.5-2.1 0.5-8.5 0.5 2.8 0.5 20.5 0.5-39.4 0.5 28.9 0.5-6.8 0.5-0.8 0.5-1.4 0.5-1.3 0.5 18.5 0.5-17.9 0.5 0.9 0.5 7.1 0.5-2.6 0.5-3.6 0.5-0.6 0.5-6.6 0.5 15.5 0.5-13.7 0.5-8.7 0.5 22.3 0.5-1.8 0.5-2.6 0.5-5.5 0.5 11 0.5-14.5 0.5-7.1 0.5 15.2 0.5 4.2 0.5-1.2 0.5 9.5 0.5-8 0.5-6.8 0.5 0.3 0.5 7.1 0.5-6.1 0.5-0.4 0.5-10.5 0.5 9.4 0.5-6.3 0.5 9.9 0.5-0.6 0.5 3.8 0.5 7 0.5-12.6 0.5 10.5 0.5-16.6 0.5 8.4 0.5 5.2 0.5 6.6 0.5-19.8 0.5 5.6 0.5 2.6 0.5-1.5 0.5-5.5 0.5-4.3 0.5 2.6 0.5 7.5 0.5-8.1 0.5 20.2 0.5-3.4 0.5-20.3 0.5 9.2 0.5 11.8 0.5 0.9 0.5-2.1 0.5-16.5 0.5 7 0.5 10.7 0.5-7.5 0.5-3.6 0.5 6.3 0.5 3.1 0.5-5.4 0.5 0.8 0.5 5.4 0.5-10.6 0.5-2.2 0.5 11 0.5-12.7 0.5 11 0.5-7.9 0.5 10.3 0.5-13.1 0.5 15.1 0.5-5.5 0.5-3.7 0.5-3.6 0.5 4.7 0.5-5 0.5-1.7 0.5 14.8 0.5-3 0.5 4.2 0.5-16.7 0.5-3.8 0.5 2.4 0.5 14.6 0.5 1 0.5-17.2 0.5 18.8 0.5-9.4 0.5-4.9 0.5 7.3 0.5 4.3 0.5-5 0.5 0.3 0.5-4.3 0.5-3.7 0.5 6.9 0.5-8.1 0.5 14.6 0.5-9.4 0.5 14.1 0.5-18.8 0.5 19.6 0.5-14.8 0.5 0 0.5 7.8 0.5 4 0.5-6.1 0.5-1.9 0.5 15.3 0.5-9.6 0.5-11 0.5 6.2 0.5 12.8 0.5-8.8 0.5 3.3 0.5 7.9 0.5-17 0.5 6.4 0.5-6.7 0.5 4.3 0.5 3.7 0.5-12.2 0.5 9.8 0.5 0 0.5 6 0.5-10.6 0.5-4.4 0.5 10.9 0.5-9.8 0.5 8.6 0.5 2.6 0.5-9.4 0.5 5 0.5-5.9 0.5-11.6 0.5 9 0.5-4 0.5 13.7 0.5-7 0.5 6.1 0.5 0.7 0.5 7.3 0.5-9.1 0.5-0.3 0.5 6 0.5 7.3 0.5-11 0.5 2.8 0.5-3.4 0.5-3.3 0.5-5.4 0.5 9.6 0.5-1.2 0.5 0.2 0.5 14.6 0.5-15 0.5 4.4 0.5-4.4 0.5 10.1 0.5-9.6 0.5 14.1 0.5-13.8 0.5 6.9 0.5 1.6 0.5-8.1 0.5 7.2 0.5-5.1 0.5-5.3 0.5 0.6 0.5 6.6 0.5 9.5 0.5-14.7 0.5 6.8 0.5-8.8 0.5 7 0.5-10.1 0.5 3.4 0.5 5.2 0.5-4.8 0.5 3.2 0.5 8.3 0.5-7.3 0.5-3.8 0.5-3.3 0.5 4.6 0.5 11.1 0.5-8 0.5-0.4 0.5 5.7 0.5 0.8 0.5 1.2 0.5-8.8 0.5-3.6 0.5-4.9 0.5 6.5 0.5 2.1 0.5 7.2 0.5-2.6 0.5-5.7 0.5 9.5 0.5-13.9 0.5 1.4 0.5-0.8 0.5 0.6 0.5 5.5 0.5-3.8 0.5 0.6 0.5 13.8 0.5-18.2 0.5 2.8 0.5 5.3 0.5 4.4 0.5 0.4 0.5-4.9 0.5-0.6 0.5 0.7 0.5 6.7 0.5-10.8 0.5-9.3 0.5 16.6 0.5-8.8 0.5 7.3 0.5 9.5 0.5-8.4 0.5 11.4 0.5-22.2 0.5 11.9 0.5 1.1 0.5 2.9 0.5-10.1 0.5 5.8 0.5-0.1 0.5-0.2 0.5-9.4 0.5-2.3 0.5 14.8 0.5-1.2 0.5-1.9 0.5 3.9 0.5 3 0.5-14.5 0.5 12.7 0.5 4.6 0.5-2.9 0.5-2.8 0.5 0.8 0.5-13.8 0.5 6.2 0.5 9.9 0.5 3.1 0.5-6.6 0.5-5.9 0.5 2.2 0.5 6.5 0.5 7.6 0.5-7.9 0.5-8.4 0.5 7.5 0.5-1.2 0.5 12.8 0.5-11.6 0.5-3.6 0.5-0.7 0.5-7.4 0.5 1.2 0.5 3.8 0.5-2.1 0.5 6.6 0.5-0.5 0.5 5.5 0.5 3.8 0.5-8.8 0.5-2.2 0.5-10.8 0.5 14.6 0.5 1.9 0.5-9.2 0.5 2.5 0.5-2 0.5 11.5 0.5-2.8 0.5 4 0.5-15.7 0.5 25.1 0.5-22.8 0.5-1 0.5 7.9 0.5-4.8 0.5 15.5 0.5-14.4 0.5-1.8 0.5 10.9 0.5 1.6 0.5-13.3 0.5 2.4 0.5 0.8 0.5 1.3 0.5 12.3 0.5-2.9 0.5-1.2 0.5 1.4 0.5-8.2 0.5 5.6 0.5-6.1 0.5-4.3 0.5 15.7 0.5-22.2 0.5 11.5 0.5-3.7 0.5-7 0.5 8.3 0.5 3 0.5 2.6 0.5-8.3 0.5 10.3 0.5-2.9 0.5 3.3 0.5-17.7 0.5 9.6 0.5-1 0.5 7.8 0.5-8.5 0.5 1.5 0.5-4.1 0.5-0.3 0.5 1.8 0.5 12.4 0.5-13.2 0.5-8.9 0.5 17.8 0.5-4.8 0.5 6.6 0.5-0.1 0.5-5.5 0.5-0.6 0.5-0.9 0.5 3.6 0.5-4.9 0.5 6.3 0.5 7.8 0.5-13.3 0.5 0.3 0.5 0 0.5 8.2 0.5 0.3 0.5 5.1 0.5-4.7 0.5-3.7 0.5 2.2 0.5-11.4 0.5 12.2 0.5-2.5 0.5 12.4 0.5-4.5 0.5-14.3 0.5 1.8 0.5 9.4 0.5-19.1 0.5 7.5 0.5 8.4 0.5 1.8 0.5-2.9 0.5 6.4 0.5-9.3 0.5 2.4 0.5-1.8 0.5-5.8 0.5 7.4 0.5-3.9 0.5 4.2 0.5-17.5 0.5 17.7 0.5-4.2 0.5-0.4 0.5 4.3 0.5-3.3 0.5 9.1 0.5 2.1 0.5-2.3 0.5 0.5 0.5-3.8 0.5-2.1 0.5-8.5 0.5 5.9 0.5 10.3 0.5-2.9 0.5-8.1 0.5 3.9 0.5 6.2 0.5-7.9 0.5 11.6 0.5-15.4 0.5 10.1 0.5-0.6 0.5-3.4 0.5 0.9 0.5 1.6 0.5-18.2 0.5 17.8 0.5 4.4 0.5-4.8 0.5 4.8 0.5-15 0.5 7.2 0.5 2.6 0.5-3.8 0.5 9.4 0.5-4.5 0.5-6.4 0.5 8.6 0.5 0 0.5-8.1 0.5 6.9 0.5-1.6 0.5-0.1 0.5-10.4 0.5 16.4 0.5-4 0.5-4.4 0.5 2.5 0.5-0.1 0.5-4.1 0.5-1.8 0.5 4.4 0.5-4.5 0.5 0.8 0.5-4.4 0.5 5.8 0.5 8.3 0.5-5.1 0.5-1.1 0.5-2.3 0.5-0.7 0.5-6.9 0.5 20.4 0.5-15.4 0.5-5 0.5 12.3 0.5-0.9 0.5-5 0.5-6.2 0.5 0.7 0.5 19.1 0.5-10.9 0.5-3.5 0.5 16.4 0.5-15.6 0.5-2.5 0.5 9.6 0.5-1.2 0.5 7.8 0.5-20.2 0.5 12 0.5-12.9 0.5 14.1 0.5-7.3 0.5 1.3 0.5-1.8 0.5 10.3 0.5 5.1 0.5-11.1 0.5-1.1 0.5-1.6 0.5 6.7 0.5-10.1 0.5 29.8 0.5-24.5 0.5 12.6 0.5-10.1 0.5-9.9 0.5-1.2 0.5 7.4 0.5-1.9 0.5 3.1 0.5-5.9 0.5 22.8 0.5-1.4 0.5-25.6 0.5 14.9 0.5 4.7 0.5-10 0.5 0.7 0.5 8.6 0.5-3.6 0.5-11.4 0.5 15.9 0.5-11.1 0.5 15.3 0.5-18.4 0.5-8.6 0.5 15.6 0.5 7.3 0.5-4.6 0.5-2.3 0.5-7 0.5 12 0.5-18.1 0.5 17.3 0.5-13.1 0.5 4 0.5-4.7 0.5 2.7 0.5 15.7 0.5-17.4 0.5 8.9 0.5-6.5 0.5 12 0.5-15.6 0.5 8.9 0.5 6 0.5 8.9 0.5-22.6 0.5 2 0.5 5.5 0.5 10 0.5-16.4 0.5 12.1 0.5-9.4 0.5-2.7 0.5-3.6 0.5 11.3 0.5 5.6 0.5-7.1 0.5-13.3 0.5 10.3 0.5 10.1 0.5-0.6 0.5-3.9 0.5 7.9 0.5-18 0.5 0.2 0.5 23.9 0.5-11.3 0.5-5.7 0.5-1.9 0.5-13.7 0.5 22.5 0.5-19.1 0.5 0.7 0.5 12.7 0.5 10.3 0.5-12.6 0.5 5.1 0.5-5.3 0.5 5.6 0.5-13.6 0.5 24.9 0.5-20.2 0.5 10.1 0.5-17.2 0.5 25.3 0.5-8.9 0.5 10.5 0.5-17.6 0.5 11.3 0.5-8 0.5 0.9 0.5 8.9 0.5-14.5 0.5 10.9 0.5 8 0.5-1.2 0.5-4.5 0.5-4.8 0.5-8.6 0.5 16 0.5-14 0.5 12.5 0.5-10.1 0.5 2.3 0.5-0.1 0.5 4.1 0.5-6.9 0.5 4.2 0.5-4.6 0.5 7 0.5-1.6 0.5 1 0.5-8.5 0.5 7.8 0.5-1.8 0.5 3.6 0.5-3.5 0.5-6.7 0.5 11.2 0.5-9.2 0.5 6.4 0.5-15.6 0.5 17.1 0.5 1.1 0.5-10.5 0.5 10 0.5-6.3 0.5 11.6 0.5-4.7 0.5-12.6 0.5 6.9 0.5-10.3 0.5 9.6 0.5 5.8 0.5 1.9 0.5-6.2 0.5-0.8 0.5 2.7 0.5-5 0.5 6.1 0.5 5.3 0.5-6 0.5 4.4 0.5-10.8 0.5 2 0.5 5.5 0.5 11.1 0.5-6.6 0.5 4.7 0.5-10.9 0.5 7.9 0.5-19.3 0.5 14.6 0.5-17.2 0.5 22 0.5-5 0.5 4.6 0.5-5 0.5-5.9 0.5-1.6 0.5 6.2 0.5 8.7 0.5-5.7 0.5-7.7 0.5-0.1 0.5-0.9 0.5 3.3 0.5 0.8 0.5-2.6 0.5 3.3 0.5-10.4 0.5 20.7 0.5-8.7 0.5 8.5 0.5-8.1 0.5-3.2 0.5 1.9 0.5 0.9 0.5-5.8 0.5 1.9 0.5 15.1 0.5-6.4 0.5-9.5 0.5 6.9 0.5-9 0.5 14.8 0.5-15.8 0.5 12.5 0.5-5.7 0.5 0.1 0.5-5.5 0.5 3.6 0.5-3.3 0.5-0.6 0.5 8.7 0.5 13.5 0.5-18.8 0.5 8.9 0.5-6.7 0.5-4.5 0.5 13.5 0.5-4.7 0.5 3.4 0.5-6.7 0.5 0.2 0.5-6.3 0.5 3.6 0.5 12.8 0.5-25.9 0.5 17.5 0.5 7.1 0.5-4.4 0.5 0.6 0.5-7.5 0.5 9.1 0.5 0.2 0.5-7.8 0.5 11.3 0.5-14.2 0.5-13 0.5 16.2 0.5-0.7 0.5-4.8 0.5 2.6 0.5-0.5 0.5-8.4 0.5 20 0.5-8 0.5 17.6 0.5-17.7 0.5 2.7 0.5-12.5 0.5 16.6 0.5-13.8 0.5 10.7 0.5 2.5 0.5-1 0.5-10.4 0.5 0.2 0.5 10.2 0.5 2.8 0.5 1.7 0.5-9.6 0.5-0.5 0.5 12.4 0.5-15.6 0.5 8.9 0.5-7 0.5-7.3 0.5 2.1 0.5 10.2 0.5-1.5 0.5 1.8 0.5-5.5 0.5-1 0.5 5.2 0.5-3.1 0.5-9.2 0.5 7.6 0.5 13.9 0.5-16 0.5 8.6 0.5-4.1 0.5 5.3 0.5-10.5 0.5-2.6 0.5 11.2 0.5-7.5 0.5 4.4 0.5-1.8 0.5 8.3 0.5-4.6 0.5-0.7 0.5-7.3 0.5-3.8 0.5 4.7 0.5 10.9 0.5-0.9 0.5-0.7 0.5-6.4 0.5-4 0.5 14.1 0.5-6.3 0.5 2.4 0.5-9.7 0.5 1.7 0.5 8.7 0.5 0.6 0.5-11.3 0.5 8.4 0.5-9.5 0.5 15.6 0.5-3.6 0.5 10.4 0.5-4.9 0.5-14.1 0.5 5.6 0.5-4.4 0.5 4 0.5 4.2 0.5-5.1 0.5 0.4 0.5-9.1 0.5 12.5 0.5-3.8 0.5 4.1 0.5 2.7 0.5-6.5 0.5 4.3 0.5-8.4 0.5 10.1 0.5-6.3 0.5-3.7 0.5 2.3 0.5-7.7 0.5 5 0.5 1.5 0.5 2.9 0.5-0.7 0.5-3.6 0.5 3 0.5-12.7 0.5 14.5 0.5 3 0.5 1.5 0.5 1.9 0.5-8.3 0.5 0.8 0.5-2.6 0.5 0 0.5 3.9 0.5 7.9 0.5-19.6 0.5 7.7 0.5 5 0.5-8.2 0.5 9.1 0.5-11.6 0.5 6.7 0.5-8.5 0.5 12.5 0.5-6.9 0.5 9.3 0.5-6.1 0.5-4.3 0.5 3.5 0.5 3.5 0.5-0.9 0.5-1.6 0.5-0.6 0.5 2.3 0.5 5.4 0.5-9.1 0.5 6.5 0.5-11.4 0.5 14.5" stroke="#f00" stroke-width="3.0"/>
<path d="M222.50 1172.3l0.75-3.3 0.75 2 0.75-0.7 0.75 0 0.75 0.1 0.75-1.4 0.75 1.2 0.75-0.5 0.75 2.9 0.75-2.3 0.75-0.5 0.75 0 0.75-0.4 0.75-0.3 0.75 0.3 0.75 0.6 0.75-0.6 0.75 0.7 0.75-0.9 0.75 0.1 0.75 0.9 0.75-0.8 0.75-0.8 0.75 0.1 0.75 0.4 0.75 0.9 0.75-1.7 0.75-0.1 0.75 0.8 0.75-1.4 0.75 0.3 0.75 0.7 0.75-0.4 0.75-0.5 0.75 0.3 0.75-2.6 0.75 2.6 0.75-1.5 0.75-0.7 0.75 1.3 0.75 0.1 0.75-0.9 0.75-0.6 0.75 0.6 0.75-0.2 0.75 0.8 0.75-0.6 0.75-0.5 0.75 0.5 0.75-1.1 0.75-0.7 0.75 0.9 0.75-0.2 0.75-0.7 0.75-0.5 0.75 0.5 0.75-2.1 0.75 2.1 0.75-0.3 0.75-1.7 0.75 1 0.75-0.9 0.75 1.1 0.75-2.2 0.75 0.7 0.75 0.9 0.75 0.2 0.75-2.5 0.75 0.9 0.75 0.4 0.75-0.8 0.75 1.4 0.75-2.2 0.75 0.9 0.75-1.2 0.75 1.5 0.75-1.2 0.75-0.4 0.75-1.2 0.75 2.2 0.75-0.9 0.75-0.2 0.75 0 0.75-0.8 0.75-0.9 0.75-0.4 0.75-0.2 0.75 1.2 0.75-2.2 0.75 0.3 0.75-0.2 0.75 0.1 0.75-0.1 0.75-1.6 0.75-0.7 0.75 0.8 0.75 0.4 0.75-0.7 0.75-0.8 0.75-0.8 0.75 0 0.75-0.8 0.75 0.3 0.75-1.6 0.75 0.2 0.75-0.6 0.75 0 0.75-0.7 0.75 1.2 0.75-1.2 0.75-0.5 0.75-2.9 0.75 0.8 0.75-0.7 0.75 0.4 0.75-2.4 0.75 1.9 0.75-0.5 0.75-2.1 0.75-0.2 0.75-0.3 0.75 0.2 0.75 0.1 0.75 0.7 0.75-1.9 0.75 0.5 0.75-0.6 0.75 1 0.75-0.9 0.75 0.4 0.75-1.7 0.75 0.6 0.75-0.4 0.75 1.7 0.75-0.6 0.75-0.6 0.75 0 0.75 0.8 0.75-0.8 0.75 0 0.75 1.1 0.75 1.5 0.75-1.8 0.75-0.1 0.75-0.4 0.75 0 0.75 1.4 0.75 0.4 0.75-0.5 0.75 0.3 0.75-0.1 0.75 0.1 0.75-1.1 0.75 0.9 0.75 0.4 0.75-0.5 0.75 0.3 0.75-0.2 0.75 0.4 0.75 0.9 0.75-0.8 0.75 0.2 0.75 0.8 0.75-0.1 0.75 0.8 0.75-2.6 0.75 2.2 0.75-0.9 0.75 0.5 0.75 0.5 0.75 0.3 0.75 0 0.75-0.6 0.75 1.1 0.75-1.2 0.75 0.1 0.75 0.7 0.75-0.8 0.75 1.9 0.75-0.7 0.75 0.9 0.75-1.5 0.75-0.2 0.75 0.4 0.75 0.5 0.75-0.9 0.75 0.8 0.75-0.2 0.75 1.2 0.75-1.6 0.75 1.3 0.75-1.1 0.75-0.2 0.75 0.2 0.75-0.2 0.75 1 0.75 0.7 0.75-0.6 0.75 0.4 0.75 0.8 0.75-0.9 0.75 0 0.75-0.3 0.75-0.8 0.75 1.7 0.75-1.7 0.75 1.7 0.75-0.3 0.75 0.8 0.75-0.7 0.75-0.5 0.75 0.9 0.75-0.6 0.75 0.4 0.75 0.2 0.75 0 0.75 0 0.75-0.4 0.75 0.6 0.75-1.3 0.75 1.5 0.75-0.7 0.75 1.8 0.75 0.2 0.75-2.2 0.75 1.6 0.75 0 0.75-0.5 0.75 1.3 0.75-0.5 0.75-0.7 0.75 1.3 0.75 0.3 0.75 0.5 0.75-0.7 0.75 1.6 0.75 0.5 0.75-1 0.75 0.6 0.75 0.8 0.75 0 0.75 2 0.75-0.7 0.75-0.5 0.75 0.5 0.75 0.8 0.75 2.1 0.75-1.4 0.75 0.6 0.75 0.6 0.75 0 0.75 1.9 0.75-1.6 0.75 1.2 0.75 0 0.75 0.6 0.75-1 0.75 2.3 0.75-1 0.75 0.3 0.75-0.4 0.75 0.3 0.75 1.1 0.75 0.5 0.75 0 0.75 0.5 0.75-0.2 0.75-0.4 0.75 0.8 0.75-0.1 0.75-0.3 0.75 0.7 0.75 0.6 0.75-0.6 0.75-0.3 0.75 0.9 0.75 1 0.75-1.3 0.75 0.3 0.75 0.1 0.75 1.1 0.75-1.9 0.75 1.7 0.75 0.7 0.75-1.2 0.75 1.8 0.75-0.5 0.75-0.6 0.75 0.7 0.75-1 0.75 0.9 0.75 1.8 0.75-1.7 0.75 2.1 0.75-1.2 0.75 1 0.75-0.5 0.75-1.4 0.75 1.3 0.75 0.7 0.75-0.7 0.75 0.1 0.75 1.4 0.75-0.5 0.75-0.5 0.75 0.9 0.75 1.3 0.75-0.7 0.75 1.2 0.75 0.6 0.75-0.8 0.75-0.6 0.75 0.1 0.75 1.1 0.75 0.9 0.75-0.3 0.75 0.4 0.75-0.5 0.75 0.8 0.75-0.4 0.75 0.3 0.75-0.5 0.75-0.1 0.75 0.9 0.75-0.3 0.75 0.2 0.75 1.3 0.75-0.5 0.75 2.2 0.75-1.3 0.75-1.1 0.75 1 0.75-0.2 0.75-0.7 0.75 1.2 0.75-1.3 0.75-1.6 0.75 2.7 0.75-1 0.75 1.5 0.75-1.6 0.75-0.3 0.75 1.8 0.75-1.8 0.75 0.9 0.75 0.8 0.75-1 0.75-0.1 0.75 0.1 0.75 0.5 0.75-1.2 0.75 1 0.75-0.1 0.75 1.2 0.75-1.9 0.75-0.4 0.75 1.1 0.75-0.8 0.75 0.4 0.75-0.1 0.75 0.6 0.75-1.3 0.75 0.4 0.75-1.8 0.75 1.1 0.75 1.7 0.75-1.6 0.75-0.1 0.75-0.4 0.75 1.2 0.75-0.3 0.75-1 0.75 1.2 0.75-0.3 0.75 0.2 0.75-1 0.75 1.6 0.75-1 0.75-0.4 0.75-0.3 0.75 0.1 0.75 0.7 0.75-0.8 0.75 0.8 0.75-0.4 0.75 0.5 0.75-0.4 0.75-0.7 0.75-1.3 0.75 1.5 0.75 0.3 0.75-0.5 0.75 0.2 0.75-0.7 0.75 0 0.75-0.4 0.75 1.6 0.75-0.9 0.75-0.5 0.75-0.6 0.75 0.8 0.75 1.1 0.75-0.8 0.75-0.8 0.75 1.5 0.75-0.1 0.75-0.3 0.75-0.2 0.75 0.3 0.75-0.5 0.75 0.2 0.75-1.1 0.75 1.5 0.75-0.9 0.75 1.3 0.75-2.9 0.75 1.9 0.75 0.2 0.75-1 0.75 0.6 0.75 0.1 0.75-0.1 0.75-0.8 0.75 0.3 0.75 0.8 0.75 0.1 0.75-0.8 0.75-0.1 0.75 0.1 0.75 0.6 0.75-1.5 0.75-0.2 0.75 1 0.75-0.9 0.75 0.4 0.75 0.4 0.75 0.3 0.75-1.1 0.75 1.3 0.75-1.9 0.75 1.6 0.75-1.5 0.75 0.2 0.75 1.4 0.75-0.8 0.75-0.3 0.75 0.2 0.75 0.7 0.75-0.4 0.75 0 0.75 0.7 0.75-1.2 0.75 0.1 0.75-0.1 0.75 1.2 0.75-0.1 0.75 0.2 0.75-1 0.75-0.1 0.75 0.7 0.75-0.9 0.75 0.8 0.75-0.1 0.75-1 0.75 0.4 0.75-0.1 0.75 1.3 0.75 0.6 0.75-1.9 0.75 0 0.75-1.6 0.75 1.7 0.75-0.2 0.75-0.7 0.75 1.2 0.75-1.6 0.75 0.9 0.75 0.2 0.75-1 0.75 1.4 0.75 0.1 0.75-1.7 0.75 0 0.75 1.3 0.75-0.4 0.75-0.9 0.75 0.6 0.75 0.1 0.75 0 0.75 0.6 0.75-0.3 0.75 0.9 0.75-0.3 0.75-0.5 0.75 0.2 0.75 0.2 0.75-0.5 0.75-1.4 0.75 1.4 0.75-0.6 0.75 1.1 0.75-1.1 0.75 0.3 0.75-0.2 0.75 0.9 0.75-1.1 0.75-0.3 0.75 0.3 0.75-0.5 0.75 0.3 0.75-0.1 0.75 0.1 0.75 1.2 0.75-1.7 0.75 0.3 0.75-0.2 0.75 0.5 0.75-1.3 0.75 0.3 0.75 0.4 0.75 0.4 0.75-0.5 0.75-0.3 0.75-0.3 0.75 0.9 0.75 0.6 0.75-0.8 0.75-0.2 0.75 0.2 0.75-1 0.75 0.4 0.75-0.1 0.75 0.4 0.75-0.3 0.75-0.9 0.75 1.6 0.75 0.4 0.75-1.4 0.75 0.4 0.75-0.1 0.75 0.3 0.75-1.7 0.75 2.2 0.75-1.6 0.75 1.2 0.75-0.9 0.75-0.3 0.75 0.1 0.75 0.7 0.75-1.3 0.75 0.3 0.75-0.2 0.75-0.9 0.75 2.1 0.75-0.6 0.75-0.5 0.75 0.8 0.75-1.5 0.75 0.5 0.75 1.2 0.75-0.5 0.75-2.3 0.75-0.9 0.75 1.6 0.75 1.4 0.75-1.1 0.75 0.1 0.75 0.5 0.75-1.1 0.75 0.7 0.75 0.3 0.75-0.3 0.75-0.1 0.75-0.8 0.75 0.8 0.75-0.8 0.75 1.2 0.75 0.8 0.75-2.4 0.75-1.1 0.75 1.1 0.75 0.5 0.75 0.4 0.75-0.1 0.75-1.3 0.75-0.1 0.75 1.3 0.75-1.7 0.75 1.4 0.75-1 0.75 0.6 0.75-0.1 0.75-0.1 0.75 0 0.75-1.4 0.75 0.8 0.75-0.3 0.75 0.1 0.75 0.5 0.75-1.1 0.75-0.4 0.75-0.1 0.75 0.2 0.75 0.6 0.75-1.2 0.75 1.3 0.75-0.8 0.75-0.4 0.75-0.9 0.75 1 0.75 0.2 0.75-1.8 0.75 1.9 0.75 0.2 0.75-1 0.75 0 0.75 1.2 0.75-0.9 0.75-1.6 0.75 0.5 0.75-0.2 0.75-0.1 0.75-1.7 0.75 2.1 0.75-1.1 0.75 0.4 0.75-0.3 0.75 0.6 0.75-1 0.75-0.4 0.75 0.8 0.75 0.5 0.75-1.3 0.75 1 0.75-0.9 0.75-0.6 0.75 1.3 0.75-1.8 0.75 1.2 0.75-1.2 0.75 0.6 0.75-1.3 0.75 0.1 0.75 1.2 0.75-0.7 0.75-0.2 0.75-0.5 0.75 0.5 0.75-1.4 0.75 0.1 0.75 0.6 0.75-0.6 0.75 0 0.75 0.3 0.75-0.2 0.75-0.1 0.75 1.2 0.75-0.6 0.75 0 0.75-1 0.75-0.4 0.75-0.8 0.75 0.7 0.75-1.3 0.75 0.9 0.75 0.8 0.75 0.5 0.75-0.5 0.75-1.4 0.75 0.8 0.75-1 0.75 1 0.75-0.7 0.75 0.5 0.75 1.1 0.75-1.2 0.75 0.8 0.75-1.6 0.75-0.5 0.75 1.1 0.75 0.2 0.75-1.7 0.75 0.3 0.75-1.2 0.75 0.8 0.75 0.6 0.75-0.8 0.75-0.4 0.75-0.7 0.75 1.1 0.75 0.2 0.75-0.3 0.75-0.3 0.75-1.2 0.75 2 0.75-1.4 0.75-0.2 0.75 0.5 0.75-2.1 0.75 1.4 0.75-0.2 0.75 0.2 0.75 0.6 0.75-0.7 0.75-1.8 0.75 1 0.75 0.2 0.75-0.1 0.75-1.1 0.75-0.4 0.75 1.4 0.75-0.2 0.75-0.4 0.75-1.3 0.75 2.3 0.75-3.4 0.75 1.7 0.75 1.6 0.75-1.7 0.75 0.2 0.75-1.1 0.75 1.6 0.75-1.9 0.75 0.9 0.75-0.2 0.75-0.9 0.75 1.2 0.75-1.7 0.75 0.4 0.75 0.3 0.75-0.3 0.75 0.5 0.75 0.2 0.75-1 0.75-0.3 0.75-0.1 0.75 0 0.75 0.7 0.75-0.8 0.75 0.3 0.75-0.5 0.75-0.6 0.75 1.1 0.75-1.5 0.75 0.7 0.75 0.9 0.75-1.9 0.75 0.6 0.75-1.2 0.75 0.6 0.75-0.8 0.75 0.7 0.75-0.2 0.75 0.3 0.75 0.9 0.75-1 0.75 0.2 0.75-0.6 0.75-0.3 0.75-0.5 0.75-0.8 0.75 1.2 0.75 1 0.75-0.9 0.75-0.8 0.75 1.4 0.75-1.6 0.75-0.2 0.75-0.5 0.75 0 0.75 0.4 0.75 1.5 0.75-1.6 0.75-0.7 0.75 0.2 0.75 0.2 0.75-1.2 0.75 1.2 0.75 0.3 0.75-0.4 0.75 0.1 0.75-1.4 0.75-0.4 0.75 2 0.75-0.2 0.75-2 0.75 1.2 0.75-0.3 0.75 0.3 0.75-0.3 0.75-0.6 0.75 0.4 0.75-0.2 0.75-0.2 0.75-1.4 0.75-0.9 0.75 1.5 0.75-0.7 0.75 1.2 0.75 0.2 0.75-0.4 0.75-0.5 0.75 0.2 0.75 0.7 0.75-1.5 0.75 1.1 0.75-0.3 0.75-0.4 0.75 0.7 0.75-1.6 0.75 1.1 0.75-1.4 0.75 0 0.75-0.4 0.75 1 0.75-1.1 0.75 0.6 0.75-1 0.75 1.5 0.75 0.4 0.75-1.2 0.75 0.8 0.75-0.9 0.75 1.1 0.75-1.6 0.75-1.3 0.75 2 0.75-1.2 0.75-0.8 0.75 0.1 0.75-0.8 0.75 0.9 0.75-0.7 0.75 1.6 0.75-0.7 0.75-1.8 0.75 0 0.75 0.5 0.75-1.1 0.75 1.2 0.75-0.1 0.75-0.7 0.75 0 0.75 0.6 0.75 0.5 0.75-0.1 0.75-1.2 0.75 0.4 0.75-1.3 0.75 0.7 0.75-1.2 0.75 1 0.75-1.5 0.75 0 0.75 0.5 0.75 0.2 0.75-1.6 0.75 0.5 0.75 0.3 0.75-0.2 0.75-0.9 0.75 0.4 0.75-0.4 0.75 1 0.75-0.8 0.75-1.6 0.75-0.8 0.75 1.4 0.75 0.5 0.75-0.9 0.75 0.3 0.75-1.2 0.75-0.9 0.75 1.3 0.75-0.7 0.75 0.1 0.75-1.7 0.75 0.8 0.75-0.8 0.75 0.7 0.75-1.2 0.75-0.3 0.75-0.3 0.75 1.1 0.75-1.2 0.75-0.8 0.75-0.5 0.75-0.3 0.75 1.4 0.75-2.6 0.75 0.4 0.75 0.7 0.75 0.1 0.75-1.3 0.75 0.3 0.75-0.3 0.75-0.2 0.75-1 0.75 0.8 0.75-1.4 0.75 0.6 0.75-2.2 0.75 1.1 0.75-1.9 0.75-0.5 0.75 1 0.75-1.3 0.75 0.5 0.75-1.4 0.75 1.4 0.75-1.5 0.75-1.2 0.75 0.5 0.75 0.1 0.75-1.6 0.75 0.5 0.75 0.6 0.75-1.2 0.75-1.1 0.75-0.8 0.75 0.3 0.75-1.9 0.75-1.6 0.75 1.2 0.75-0.8 0.75 1.5 0.75-1.6 0.75-1.3 0.75-0.6 0.75 0.6 0.75-1.4 0.75-0.4 0.75-0.2 0.75-0.4 0.75-0.6 0.75-0.5 0.75 0.2 0.75-0.3 0.75-2.9 0.75 2.3 0.75-2.3 0.75 0.1 0.75-2 0.75 0.1 0.75-0.8 0.75-0.7 0.75-0.2 0.75-0.8 0.75-1.9 0.75-0.1 0.75-0.1 0.75-0.7 0.75-1.5 0.75-0.7 0.75-0.6 0.75-1.4 0.75-0.9 0.75 1.2 0.75-2.1 0.75-0.4 0.75-1.3 0.75 0.6 0.75-0.4 0.75-2.2 0.75-0.2 0.75-1.7 0.75 1 0.75-1.4 0.75-2 0.75 0.6 0.75-1.4 0.75-0.8 0.75-0.9 0.75-1.5 0.75-0.8 0.75 0 0.75-1.3 0.75-1.5 0.75 1.2 0.75-2.4 0.75-1.1 0.75-1 0.75 0.1 0.75-0.7 0.75-1.4 0.75-0.5 0.75-2.5 0.75-0.2 0.75-0.9 0.75-0.6 0.75-0.6 0.75-2.7 0.75 2.7 0.75-3.7 0.75-0.1 0.75-0.6 0.75-1 0.75-1.3 0.75-3.2 0.75 0.3 0.75 0.4 0.75-2.2 0.75-1.1 0.75-1.9 0.75 1.6 0.75-1.5 0.75-2 0.75-0.5 0.75-1 0.75-1.7 0.75-0.4 0.75-0.7 0.75-0.8 0.75-0.6 0.75-1.9 0.75-1.4 0.75-0.4 0.75-1.8 0.75-1.6 0.75 0.6 0.75-2.1 0.75-0.8 0.75-0.7 0.75-2.4 0.75 0.1 0.75-1.2 0.75-1.5 0.75-0.8 0.75-1.9 0.75-2 0.75 0.3 0.75-1.5 0.75 0.2 0.75-1.4 0.75-1.5 0.75-0.6 0.75 0 0.75-1 0.75-1.5 0.75-0.8 0.75-1.4 0.75-0.7 0.75-0.3 0.75-1.3 0.75-0.5 0.75-1.8 0.75-1.1 0.75-0.8 0.75 0.2 0.75 0.5 0.75-0.8 0.75-2.2 0.75-1.1 0.75 1 0.75-0.9 0.75-2 0.75 1 0.75-1.2 0.75 0.1 0.75-1.3 0.75-0.3 0.75-1 0.75-1.5 0.75-0.1 0.75-0.8 0.75 0.5 0.75-1.9 0.75-0.9 0.75 1.1 0.75-0.2 0.75-0.3 0.75-0.7 0.75-2.2 0.75 0.1 0.75-0.3 0.75 0 0.75-1.8 0.75 1.1 0.75-0.1 0.75-1.2 0.75 0.5 0.75 0.5 0.75-1.1 0.75 0.4 0.75-0.3 0.75-0.7 0.75-0.2 0.75-0.8 0.75 0.9 0.75-1.5 0.75-0.4 0.75 0.8 0.75-1.2 0.75 0.5 0.75 0.3 0.75-0.9 0.75-0.2 0.75 0.4 0.75-0.3 0.75-1.8 0.75 0 0.75 1.7 0.75-0.7 0.75-1.9 0.75 0.4 0.75 0.9 0.75-0.8 0.75 0.9 0.75-0.3 0.75 0.2 0.75-1.2 0.75 1.3 0.75 0.9 0.75-1.9 0.75 1.5 0.75-0.1 0.75-0.2 0.75-0.4 0.75-0.7 0.75 0.4 0.75 1.3 0.75 0.3 0.75 0.3 0.75 0 0.75 0.2 0.75-0.7 0.75-0.3 0.75 1.2 0.75 0.5 0.75-0.1 0.75-0.8 0.75 1 0.75-0.4 0.75 1.4 0.75-0.5 0.75 1 0.75 0.6 0.75 0.2 0.75 1.2 0.75-1.4 0.75-0.3 0.75 2.5 0.75 0.7 0.75 0.4 0.75-0.3 0.75 0.6 0.75 0.2 0.75-0.5 0.75 1 0.75 1.4 0.75-0.2 0.75 2.4 0.75-1.8 0.75 1.5 0.75 1.7 0.75-0.5 0.75 0.4 0.75 0.6 0.75 1.1 0.75 2.3 0.75 0 0.75 0.8 0.75-0.1 0.75 1.7 0.75 0.2 0.75-0.1 0.75 1 0.75 1.1 0.75 1.3 0.75-0.2 0.75 1 0.75 1.7 0.75-1.4 0.75 0.3 0.75 2.2 0.75 0.2 0.75 0.2 0.75 0.9 0.75 0.1 0.75 1.2 0.75 0 0.75 1.4 0.75-0.8 0.75 0.9 0.75 1.2 0.75 0.2 0.75 1.4 0.75 0.1 0.75 0.2 0.75 1.2 0.75 0 0.75-0.1 0.75 0.9 0.75 0.8 0.75 0.8 0.75 1 0.75 1.2 0.75 0.3 0.75 1.4 0.75 0.3 0.75-0.5 0.75 1.9 0.75 0.3 0.75-0.5 0.75 1.1 0.75 1.2 0.75 0.1 0.75 1.2 0.75 0.2 0.75 1 0.75 0 0.75 1.2 0.75 0.2 0.75 1.5 0.75-0.8 0.75 2.2 0.75 1.5 0.75 0.4 0.75 0.5 0.75 1.3 0.75-0.1 0.75 1 0.75 1.3 0.75 1.1 0.75 1.8 0.75-0.4 0.75 2.4 0.75-0.8 0.75 1.5 0.75 1.6 0.75 1.9 0.75-0.3 0.75 0 0.75 2.8 0.75 0.8 0.75 0.3 0.75 1 0.75 1.3 0.75 1.7 0.75 1.5 0.75-0.4 0.75 3.7 0.75-0.5 0.75 0.9 0.75 1.9 0.75 0.7 0.75 2.7 0.75 0.2 0.75 0.1 0.75 1.1 0.75 1 0.75 1.1 0.75 1.8 0.75 0.1 0.75 2.5 0.75-0.3 0.75 0.9 0.75 1.6 0.75-1.2 0.75 1.5 0.75 1.9 0.75 0.3 0.75 0.7 0.75 0.9 0.75 0 0.75 0.9 0.75-0.2 0.75 0.3 0.75 2.8 0.75-1 0.75 0.7 0.75 2.1 0.75 0.3 0.75-0.6 0.75 0.6 0.75 0.8 0.75-0.1 0.75 1.6 0.75 0.3 0.75 0.5 0.75 0.9 0.75 0.5 0.75 1.3 0.75 0.3 0.75-1.7 0.75 2.3 0.75-0.8 0.75 0.3 0.75 2 0.75-0.5 0.75 0.8 0.75 1.4 0.75-0.7 0.75 0.4 0.75 1.3 0.75 1.1 0.75 0 0.75-1 0.75 1.1 0.75 0.8 0.75 2 0.75-0.3 0.75 0.4 0.75 0.7 0.75-0.7 0.75 1 0.75 0.4 0.75-0.6 0.75 1.1 0.75 0.8 0.75-0.8 0.75 1.7 0.75 0.4 0.75 0.5 0.75-0.9 0.75 1 0.75 1.3 0.75-0.1 0.75-0.7 0.75 1 0.75 1.2 0.75-0.7 0.75 0.6 0.75 1.9 0.75-1.5 0.75 0.3 0.75-0.3 0.75 0.5 0.75 1.8 0.75-0.8 0.75-0.4 0.75 0.4 0.75 1 0.75 0.8 0.75-0.8 0.75 1.3 0.75-0.5 0.75 0.8 0.75 0.4 0.75 0.4 0.75-0.5 0.75 0.4 0.75 0.8 0.75-1 0.75 1.3 0.75 0.4 0.75 0.7 0.75-0.6 0.75 0.2 0.75 0.5 0.75-0.4 0.75 0.6 0.75 0.7 0.75 0.1 0.75-0.7 0.75 0.7 0.75-1 0.75 2.3 0.75-0.7 0.75 0.8 0.75-0.7 0.75 0.9 0.75 0.6 0.75 0.6 0.75-1.5 0.75 1.8 0.75-0.5 0.75-0.2 0.75 1 0.75-0.3 0.75 0.2 0.75-0.1 0.75 0.8 0.75 0 0.75 0.1 0.75-0.4 0.75 0.4 0.75 0.8 0.75 0.8 0.75-0.8 0.75 1.2 0.75-0.9 0.75-0.6 0.75 1.3 0.75-1 0.75 1.1 0.75 0.6 0.75-0.9 0.75 0.3 0.75 1.9 0.75-1.5 0.75 0.2 0.75 0.4 0.75-0.5 0.75 0.1 0.75 0.5 0.75-1.9 0.75 2.8 0.75-1.7 0.75 0.1 0.75 1.3 0.75-0.3 0.75-0.8 0.75 1.1 0.75-0.8 0.75 0.4 0.75-0.5 0.75 0.6 0.75 0.9 0.75-0.1 0.75 0.2 0.75 0.6 0.75-0.6 0.75-0.3 0.75 0.3 0.75 1.5 0.75-1.1 0.75 0.4 0.75-0.2 0.75 0.3 0.75 0.2 0.75-0.2 0.75 0.1 0.75-0.4 0.75 0.1 0.75 1 0.75 0.3 0.75 0.3 0.75-0.5 0.75-0.5 0.75 1.1 0.75 0.1 0.75-1.3 0.75 1.7 0.75 0 0.75 0.8 0.75-1.8 0.75 0 0.75 1.6 0.75-1.7 0.75 0.9 0.75-0.2 0.75 0.2 0.75-0.5 0.75 1.3 0.75 1 0.75-0.3 0.75 0.1 0.75-0.4 0.75 1.4 0.75-0.5 0.75 0.5 0.75-1.7 0.75 1.4 0.75-0.9 0.75 1.1 0.75 0.1 0.75-0.8 0.75 1 0.75 0.8 0.75-0.4 0.75 0.2 0.75-0.9 0.75 0.3 0.75-0.2 0.75 0.9 0.75 0.9 0.75-0.4 0.75-0.2 0.75-0.7 0.75 1.2 0.75-0.4 0.75-1 0.75 0.2 0.75 1.1 0.75-0.3 0.75 1.9 0.75-1 0.75-0.7 0.75 0.5 0.75 1.5 0.75-1.6 0.75 1.3 0.75-0.2 0.75 0.9 0.75-0.6 0.75-0.6 0.75 0.8 0.75-0.2 0.75 0.7 0.75-0.6 0.75 1.5 0.75-1.4 0.75 0.5 0.75-0.7 0.75 0.7 0.75 0 0.75 0.2 0.75 0.6 0.75-0.9 0.75-0.1 0.75 1.4 0.75-0.8 0.75-0.2 0.75 1.3 0.75-0.1 0.75-2.3 0.75 1.7 0.75 0.9 0.75 0.1 0.75-0.9 0.75 1.6 0.75-1.6 0.75 0.5 0.75 0.4 0.75-0.1 0.75 0.7 0.75 0.2 0.75-0.6 0.75 1.1 0.75-1.4 0.75 0.5 0.75 1.4 0.75-1 0.75 0.7 0.75-0.9 0.75 0.2 0.75 0.2 0.75 0.3 0.75-0.3 0.75 0.3 0.75 0.6 0.75 0.5 0.75-0.7 0.75 0.4 0.75 0.3 0.75-1.3 0.75-0.2 0.75 2.3 0.75-0.1 0.75-0.8 0.75 0.3 0.75-0.8 0.75-0.2 0.75 1.2 0.75-1.1 0.75 1.7 0.75-1 0.75 0.8 0.75 1.2 0.75 0.1 0.75-1.4 0.75 1 0.75-1.4 0.75 0.4 0.75 0.8 0.75 0.8 0.75-1.3 0.75 0.9 0.75-0.3 0.75-0.8 0.75 0.9 0.75 1.2 0.75-1 0.75 0.5 0.75 0.3 0.75-1 0.75 1.4 0.75 0.3 0.75 0.2 0.75-0.1 0.75-1.2 0.75 0 0.75-0.1 0.75 0.1 0.75 0.1 0.75 1.3 0.75 0.5 0.75-1.4 0.75 1.1 0.75-1.4 0.75 0.7 0.75-0.3 0.75-0.4 0.75 1.3 0.75 0.1 0.75-0.3 0.75 0 0.75-0.2 0.75 0.6 0.75-0.2 0.75 0.7 0.75-1 0.75 1.1 0.75 0.3 0.75 0.6 0.75-0.1 0.75-0.5 0.75-0.5 0.75-0.8 0.75 1.4 0.75 1.1 0.75 0.2 0.75-2.8 0.75 1.3 0.75 0.3 0.75-0.4 0.75 1 0.75-0.1 0.75-0.3 0.75 0.4 0.75-1 0.75 0.5 0.75 0.1 0.75 1.4 0.75-1.7 0.75 1 0.75 0.8 0.75-0.5 0.75 0.6 0.75-0.9 0.75 0.8 0.75 0.4 0.75 1 0.75-1 0.75 0.6 0.75-1 0.75 0.2 0.75 1.1 0.75-0.7 0.75 0.7 0.75-0.4 0.75 1 0.75 0.2 0.75-2.1 0.75 1.9 0.75-0.9 0.75 0.1 0.75-0.4 0.75 0.6 0.75-1.2 0.75 0.4 0.75 0 0.75 0.8 0.75 0.5 0.75-0.1 0.75-0.2 0.75-0.6 0.75-0.8 0.75 1.6 0.75-0.1 0.75 0.2 0.75 0.8 0.75-1.1 0.75 0.1 0.75-1.5 0.75 2.1 0.75-0.4 0.75-0.4 0.75 0.8 0.75-0.9 0.75 0.4 0.75 1.8 0.75-0.8 0.75 0.2 0.75-0.1 0.75 0 0.75-0.3 0.75 1.5 0.75-1.6 0.75 0.7 0.75-0.7 0.75 0 0.75-1.4 0.75 0.4 0.75 2.5 0.75 0 0.75-1.3 0.75 0.3 0.75 0.5 0.75-1.1 0.75 2 0.75-1.9 0.75 0.3 0.75-1.4 0.75 3.1 0.75-1 0.75 1.1 0.75-1.8 0.75 1 0.75-0.1 0.75 0.1 0.75 1.4 0.75 0.2 0.75-0.6 0.75-1.2 0.75 1 0.75 0.3 0.75-0.5 0.75 0.1 0.75 0 0.75-0.9 0.75 0.8 0.75 1 0.75-1.7 0.75 0.8 0.75 0.6 0.75-1.5 0.75 0.9 0.75-1.1 0.75 0.9 0.75-0.6 0.75 0.5 0.75 0.3 0.75 0.2 0.75 0.1 0.75-1.5 0.75 2.9 0.75-1.3 0.75-0.5 0.75 0.4 0.75 0.7 0.75-0.9 0.75 0.5 0.75 0 0.75 0.8 0.75-0.9 0.75 0.9 0.75 0 0.75-0.3 0.75 1 0.75-0.8 0.75-0.7 0.75 1.1 0.75-0.1 0.75-0.1 0.75 0.3 0.75 1.5 0.75-1.4 0.75 0.2 0.75-0.4 0.75 1.1 0.75-0.9 0.75-0.4 0.75-0.3 0.75 1.3 0.75 0.2 0.75-1.6 0.75 0.7 0.75 1 0.75 0.4 0.75-1.6 0.75 0.7 0.75 0.9 0.75-0.9 0.75 0.1 0.75 0 0.75-0.5 0.75 1 0.75 0.3 0.75-1.2 0.75 1.1 0.75 0.8 0.75-0.6 0.75 0.6 0.75-1 0.75 1.4 0.75-1.4 0.75 1.9 0.75-1.6 0.75-0.1 0.75-0.1 0.75 0.4 0.75 0 0.75-0.1 0.75 0.3 0.75 0.8 0.75 0.2 0.75-0.8 0.75 1.1 0.75-1.5 0.75 0 0.75 0 0.75 1.3 0.75-1.5 0.75 0.2 0.75 1.9 0.75 0.4 0.75-0.2 0.75-2 0.75 1.1 0.75 0.6 0.75-0.4 0.75-1.2 0.75 1 0.75-0.9 0.75 0.3 0.75 2.4 0.75-0.9 0.75-1.5 0.75 0 0.75 1.4 0.75-0.7 0.75 0.9 0.75-0.8 0.75 0.3 0.75 0.4 0.75-0.9 0.75-0.5 0.75 0.5 0.75 0.4 0.75 0.4 0.75 0.1 0.75 0.1 0.75 0.4 0.75-0.9 0.75 1.6 0.75 0.5 0.75-1.2 0.75 0 0.75 0.7 0.75-0.3 0.75-0.3 0.75-0.2 0.75-0.4 0.75-0.3 0.75 1.4 0.75 0.4 0.75-1.6 0.75 0.8 0.75 0.2 0.75-0.4 0.75-0.2 0.75 0.3 0.75-1.1 0.75 1.4 0.75-0.1 0.75 1.7 0.75-0.8 0.75-0.9 0.75 0.3 0.75 1.2 0.75 0 0.75-1 0.75-0.1 0.75-0.9 0.75 0.8 0.75 0.1 0.75-0.3 0.75 1.7 0.75-2.5 0.75 1.3 0.75 0.4 0.75 0.1 0.75 0.9 0.75-2.1 0.75 0.4 0.75 0.7 0.75 0 0.75-0.3 0.75-0.2 0.75 1.3 0.75-1.5 0.75 0.4 0.75 1.4 0.75 0.3 0.75-0.6 0.75-1.2 0.75 0.1 0.75 0 0.75-0.2 0.75 0.6 0.75 1.2 0.75-0.7 0.75-0.7 0.75 0 0.75-0.2 0.75 1.7 0.75-2.3 0.75 1.7 0.75-1.2 0.75 0.3 0.75-0.3 0.75 1.8 0.75-0.7 0.75 2 0.75-2.7 0.75 0 0.75 1.2 0.75 0 0.75-0.5 0.75-1.2 0.75 2.4 0.75-0.6 0.75 0 0.75-0.7 0.75 0.9 0.75-0.8 0.75 0.4 0.75-0.1 0.75 1 0.75-1.2 0.75 0.1 0.75 1.1 0.75-0.6 0.75-0.2 0.75-0.1 0.75 0.8 0.75-1.1 0.75 0.9 0.75 1.1 0.75-1.2 0.75-0.8 0.75-0.2 0.75 0.9 0.75-0.9 0.75-0.3 0.75 0.6 0.75-0.2 0.75 1.4" stroke="#00f" stroke-width="5.0"/>
</g>
<path d="M221 49V1240" stroke="#000" stroke-width="6" fill="none"/>
<path d="M218 51.5H1667M218 1217.5H1667M1664.5 49V1240.5" stroke="#000" stroke-width="5" fill="none"/>
<path d="M198 1180.0H221M198 991.9H221M198 803.8H221M198 615.8H221M198 427.7H221M198 239.6H221M198 51.5H221M209 1086.0H221M209 897.9H221M209 709.8H221M209 521.7H221M209 333.6H221M209 145.5H221M509.7 1217.5V1240.5M798.4 1217.5V1240.5M1087.1 1217.5V1240.5M1375.8 1217.5V1240.5M278.7 1217.5V1229M336.5 1217.5V1229M394.2 1217.5V1229M452.0 1217.5V1229M567.4 1217.5V1229M625.2 1217.5V1229M682.9 1217.5V1229M740.7 1217.5V1229M856.1 1217.5V1229M913.9 1217.5V1229M971.6 1217.5V1229M1029.4 1217.5V1229M1144.8 1217.5V1229M1202.6 1217.5V1229M1260.3 1217.5V1229M1318.1 1217.5V1229M1433.5 1217.5V1229M1491.3 1217.5V1229M1549.0 1217.5V1229M1606.8 1217.5V1229" stroke="#000" stroke-width="5" fill="none"/>
<g font-size="67.0"><text transform="translate(183 1201.3) scale(1 1.04)" text-anchor="end">0</text><text transform="translate(183 1013.2) scale(1 1.04)" text-anchor="end">1</text><text transform="translate(183 825.1) scale(1 1.04)" text-anchor="end">2</text><text transform="translate(183 637.0) scale(1 1.04)" text-anchor="end">3</text><text transform="translate(183 449.0) scale(1 1.04)" text-anchor="end">4</text><text transform="translate(183 260.9) scale(1 1.04)" text-anchor="end">5</text><text transform="translate(183 72.8) scale(1 1.04)" text-anchor="end">6</text><text transform="translate(222.0 1308.5) scale(1 1.04)" text-anchor="middle">0.1</text><text transform="translate(510.7 1308.5) scale(1 1.04)" text-anchor="middle">0.2</text><text transform="translate(799.4 1308.5) scale(1 1.04)" text-anchor="middle">0.3</text><text transform="translate(1088.1 1308.5) scale(1 1.04)" text-anchor="middle">0.4</text><text transform="translate(1376.8 1308.5) scale(1 1.04)" text-anchor="middle">0.5</text><text transform="translate(1665.5 1308.5) scale(1 1.04)" text-anchor="middle">0.6</text></g>
<text transform="translate(586.6 1392) scale(1 1.04)" font-size="71.3">TOF (μs) @ 10 cm</text>
<text transform="translate(76.5 932.6) rotate(-90) scale(1 1.04)" font-size="71.3">Current (A) @ 10 cm</text>
<path d="M1116 128H1278" stroke="#000" stroke-width="2"/>
<path d="M1116 216H1278" stroke="#f00" stroke-width="2"/>
<path d="M1116 303.5H1278" stroke="#00f" stroke-width="3"/>
<g font-size="71.3"><text transform="translate(1296.5 153) scale(1 1.04)">Al@10cm</text><text transform="translate(1296.5 241.3) scale(1 1.04)">Fe@10cm</text><text transform="translate(1296.5 328.2) scale(1 1.04)">Sn@10cm</text></g>
</svg></body></html>
